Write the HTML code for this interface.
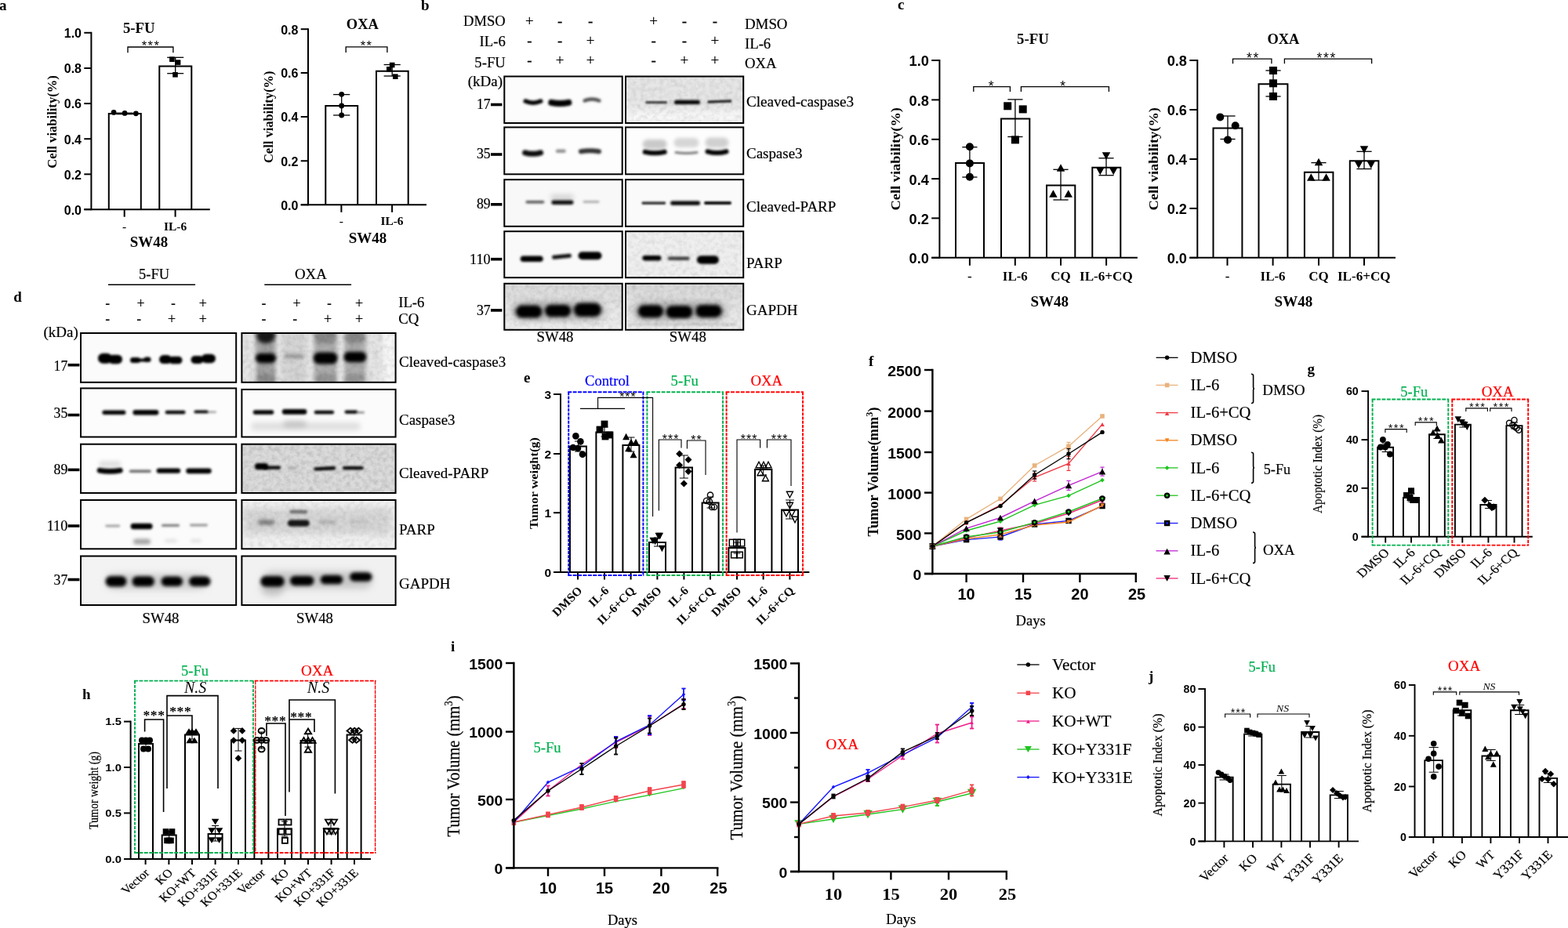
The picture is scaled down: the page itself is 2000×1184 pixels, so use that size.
<!DOCTYPE html>
<html lang="en"><head><meta charset="utf-8"><title>Figure</title>
<style>
html,body{margin:0;padding:0;background:#fff}
body{width:2000px;height:1184px;overflow:hidden}
svg{display:block}
text{white-space:pre;stroke-width:.2px;stroke-linejoin:round}
.s{font-family:'Liberation Serif',serif}
.a{font-family:'Liberation Sans',sans-serif}
.b{font-weight:bold}
.i{font-style:italic}
</style></head><body>
<svg width="2000" height="1184" viewBox="0 0 2000 1184">
<defs>
<filter id="f1" filterUnits="userSpaceOnUse" x="643.3" y="97.5" width="150.4" height="59.5"><feGaussianBlur stdDeviation="1.6"/></filter>
<filter id="f2" filterUnits="userSpaceOnUse" x="643.3" y="97.5" width="150.4" height="59.5"><feGaussianBlur stdDeviation="1.5"/></filter>
<filter id="f3" filterUnits="userSpaceOnUse" x="643.3" y="162.4" width="150.4" height="59.9"><feGaussianBlur stdDeviation="1.8"/></filter>
<filter id="f4" filterUnits="userSpaceOnUse" x="643.3" y="162.4" width="150.4" height="59.9"><feGaussianBlur stdDeviation="1.6"/></filter>
<filter id="f5" filterUnits="userSpaceOnUse" x="643.3" y="162.4" width="150.4" height="59.9"><feGaussianBlur stdDeviation="1.5"/></filter>
<filter id="f6" filterUnits="userSpaceOnUse" x="643.3" y="229.2" width="150.4" height="59.6"><feGaussianBlur stdDeviation="3"/></filter>
<filter id="f7" filterUnits="userSpaceOnUse" x="643.3" y="229.2" width="150.4" height="59.6"><feGaussianBlur stdDeviation="1.6"/></filter>
<filter id="f8" filterUnits="userSpaceOnUse" x="643.3" y="229.2" width="150.4" height="59.6"><feGaussianBlur stdDeviation="1.5"/></filter>
<filter id="f9" filterUnits="userSpaceOnUse" x="643.3" y="295.2" width="150.4" height="59"><feGaussianBlur stdDeviation="1.6"/></filter>
<filter id="f10" filterUnits="userSpaceOnUse" x="643.3" y="295.2" width="150.4" height="59"><feGaussianBlur stdDeviation="1.5"/></filter>
<filter id="nz" x="0" y="0" width="100%" height="100%"><feTurbulence type="fractalNoise" baseFrequency="0.17" numOctaves="3" seed="11" result="t"/><feColorMatrix in="t" type="matrix" values="0 0 0 0 0 0 0 0 0 0 0 0 0 0 0 0.9 0.9 0.9 0 -1.12"/></filter>
<linearGradient id="g1" x1="0" y1="0" x2="0" y2="1"><stop offset="0" stop-color="#dadada"/><stop offset="1" stop-color="#f0f0f0"/></linearGradient>
<filter id="f11" filterUnits="userSpaceOnUse" x="643.3" y="361.8" width="150.4" height="59"><feGaussianBlur stdDeviation="4.5"/></filter>
<filter id="f12" filterUnits="userSpaceOnUse" x="643.3" y="361.8" width="150.4" height="59"><feGaussianBlur stdDeviation="2"/></filter>
<filter id="f13" filterUnits="userSpaceOnUse" x="798" y="97.5" width="150.2" height="59.5"><feGaussianBlur stdDeviation="5"/></filter>
<filter id="f14" filterUnits="userSpaceOnUse" x="798" y="97.5" width="150.2" height="59.5"><feGaussianBlur stdDeviation="1.4"/></filter>
<filter id="f15" filterUnits="userSpaceOnUse" x="798" y="97.5" width="150.2" height="59.5"><feGaussianBlur stdDeviation="1.3"/></filter>
<filter id="f16" filterUnits="userSpaceOnUse" x="798" y="162.4" width="150.2" height="59.9"><feGaussianBlur stdDeviation="2.2"/></filter>
<filter id="f17" filterUnits="userSpaceOnUse" x="798" y="162.4" width="150.2" height="59.9"><feGaussianBlur stdDeviation="1.4"/></filter>
<filter id="f18" filterUnits="userSpaceOnUse" x="798" y="229.2" width="150.2" height="59.6"><feGaussianBlur stdDeviation="1.4"/></filter>
<filter id="f19" filterUnits="userSpaceOnUse" x="798" y="229.2" width="150.2" height="59.6"><feGaussianBlur stdDeviation="1.3"/></filter>
<filter id="f20" filterUnits="userSpaceOnUse" x="798" y="295.2" width="150.2" height="59"><feGaussianBlur stdDeviation="1.6"/></filter>
<filter id="f21" filterUnits="userSpaceOnUse" x="798" y="295.2" width="150.2" height="59"><feGaussianBlur stdDeviation="1.5"/></filter>
<linearGradient id="g2" x1="0" y1="0" x2="0" y2="1"><stop offset="0" stop-color="#d8d8d8"/><stop offset="1" stop-color="#eeeeee"/></linearGradient>
<filter id="f22" filterUnits="userSpaceOnUse" x="798" y="361.8" width="150.2" height="59"><feGaussianBlur stdDeviation="4.5"/></filter>
<filter id="f23" filterUnits="userSpaceOnUse" x="798" y="361.8" width="150.2" height="59"><feGaussianBlur stdDeviation="2"/></filter>
<filter id="f24" filterUnits="userSpaceOnUse" x="798" y="361.8" width="150.2" height="59"><feGaussianBlur stdDeviation="1.5"/></filter>
<filter id="f25" filterUnits="userSpaceOnUse" x="103" y="425" width="198.2" height="62.8"><feGaussianBlur stdDeviation="1.8"/></filter>
<filter id="f26" filterUnits="userSpaceOnUse" x="103" y="425" width="198.2" height="62.8"><feGaussianBlur stdDeviation="1.6"/></filter>
<filter id="f27" filterUnits="userSpaceOnUse" x="103" y="495.4" width="198.2" height="62.1"><feGaussianBlur stdDeviation="1.5"/></filter>
<filter id="f28" filterUnits="userSpaceOnUse" x="103" y="495.4" width="198.2" height="62.1"><feGaussianBlur stdDeviation="1.4"/></filter>
<filter id="f29" filterUnits="userSpaceOnUse" x="103" y="566.7" width="198.2" height="62.3"><feGaussianBlur stdDeviation="2.5"/></filter>
<filter id="f30" filterUnits="userSpaceOnUse" x="103" y="566.7" width="198.2" height="62.3"><feGaussianBlur stdDeviation="1.5"/></filter>
<filter id="f31" filterUnits="userSpaceOnUse" x="103" y="638" width="198.2" height="62.3"><feGaussianBlur stdDeviation="2.2"/></filter>
<filter id="f32" filterUnits="userSpaceOnUse" x="103" y="638" width="198.2" height="62.3"><feGaussianBlur stdDeviation="1.5"/></filter>
<filter id="f33" filterUnits="userSpaceOnUse" x="103" y="709.5" width="198.2" height="62.5"><feGaussianBlur stdDeviation="4"/></filter>
<filter id="f34" filterUnits="userSpaceOnUse" x="103" y="709.5" width="198.2" height="62.5"><feGaussianBlur stdDeviation="2"/></filter>
<filter id="f35" filterUnits="userSpaceOnUse" x="308.4" y="425" width="196.2" height="62.8"><feGaussianBlur stdDeviation="3"/></filter>
<filter id="f36" filterUnits="userSpaceOnUse" x="308.4" y="425" width="196.2" height="62.8"><feGaussianBlur stdDeviation="2.6"/></filter>
<filter id="f37" filterUnits="userSpaceOnUse" x="308.4" y="425" width="196.2" height="62.8"><feGaussianBlur stdDeviation="2.5"/></filter>
<filter id="f38" filterUnits="userSpaceOnUse" x="308.4" y="425" width="196.2" height="62.8"><feGaussianBlur stdDeviation="2.4"/></filter>
<filter id="f39" filterUnits="userSpaceOnUse" x="308.4" y="425" width="196.2" height="62.8"><feGaussianBlur stdDeviation="2.2"/></filter>
<filter id="f40" filterUnits="userSpaceOnUse" x="308.4" y="425" width="196.2" height="62.8"><feGaussianBlur stdDeviation="2"/></filter>
<filter id="f41" filterUnits="userSpaceOnUse" x="308.4" y="496.9" width="196.2" height="60.6"><feGaussianBlur stdDeviation="3"/></filter>
<filter id="f42" filterUnits="userSpaceOnUse" x="308.4" y="496.9" width="196.2" height="60.6"><feGaussianBlur stdDeviation="1.4"/></filter>
<filter id="f43" filterUnits="userSpaceOnUse" x="308.4" y="566.7" width="196.2" height="62.3"><feGaussianBlur stdDeviation="1.5"/></filter>
<filter id="f44" filterUnits="userSpaceOnUse" x="308.4" y="566.7" width="196.2" height="62.3"><feGaussianBlur stdDeviation="1.4"/></filter>
<filter id="f45" filterUnits="userSpaceOnUse" x="308.4" y="638" width="196.2" height="62.3"><feGaussianBlur stdDeviation="4"/></filter>
<filter id="f46" filterUnits="userSpaceOnUse" x="308.4" y="638" width="196.2" height="62.3"><feGaussianBlur stdDeviation="2"/></filter>
<filter id="f47" filterUnits="userSpaceOnUse" x="308.4" y="638" width="196.2" height="62.3"><feGaussianBlur stdDeviation="1.8"/></filter>
<filter id="f48" filterUnits="userSpaceOnUse" x="308.4" y="709.5" width="196.2" height="62.5"><feGaussianBlur stdDeviation="4.5"/></filter>
<filter id="f49" filterUnits="userSpaceOnUse" x="308.4" y="709.5" width="196.2" height="62.5"><feGaussianBlur stdDeviation="4"/></filter>
<filter id="f50" filterUnits="userSpaceOnUse" x="308.4" y="709.5" width="196.2" height="62.5"><feGaussianBlur stdDeviation="2"/></filter>
</defs>
<rect width="2000" height="1184" fill="#fff"/>
<text class="s b" font-size="19" x="-1" y="12.9">a</text>
<path d="M138.8 267.2V145H179.8V267.2" fill="#fff" stroke="#000" stroke-width="2"/>
<path d="M203.3 267.2V84.5H244.3V267.2" fill="#fff" stroke="#000" stroke-width="2"/>
<line x1="116.4" y1="40.8" x2="116.4" y2="268.2" stroke="#000" stroke-width="2"/>
<line x1="107.3" y1="267.2" x2="267.8" y2="267.2" stroke="#000" stroke-width="2"/>
<line x1="107.3" y1="41.8" x2="116.4" y2="41.8" stroke="#000" stroke-width="2"/>
<text class="a b" font-size="16" text-anchor="end" x="104" y="48.1">1.0</text>
<line x1="107.3" y1="87" x2="116.4" y2="87" stroke="#000" stroke-width="2"/>
<text class="a b" font-size="16" text-anchor="end" x="104" y="93.3">0.8</text>
<line x1="107.3" y1="132.1" x2="116.4" y2="132.1" stroke="#000" stroke-width="2"/>
<text class="a b" font-size="16" text-anchor="end" x="104" y="138.4">0.6</text>
<line x1="107.3" y1="177.2" x2="116.4" y2="177.2" stroke="#000" stroke-width="2"/>
<text class="a b" font-size="16" text-anchor="end" x="104" y="183.5">0.4</text>
<line x1="107.3" y1="222.3" x2="116.4" y2="222.3" stroke="#000" stroke-width="2"/>
<text class="a b" font-size="16" text-anchor="end" x="104" y="228.6">0.2</text>
<line x1="107.3" y1="267.2" x2="116.4" y2="267.2" stroke="#000" stroke-width="2"/>
<text class="a b" font-size="16" text-anchor="end" x="104" y="273.5">0.0</text>
<line x1="158.7" y1="267.2" x2="158.7" y2="276.7" stroke="#000" stroke-width="2"/>
<line x1="223.6" y1="267.2" x2="223.6" y2="276.7" stroke="#000" stroke-width="2"/>
<text class="s b" font-size="19" text-anchor="middle" textLength="40.7" lengthAdjust="spacingAndGlyphs" x="177.3" y="41.8">5-FU</text>
<text class="s b" font-size="16" text-anchor="middle" textLength="118.5" lengthAdjust="spacingAndGlyphs" transform="translate(72.2,155.4) rotate(-90)">Cell viability(%)</text>
<line x1="159" y1="144.2" x2="159" y2="145.6" stroke="#000" stroke-width="1.3"/>
<line x1="148.5" y1="144.2" x2="169.5" y2="144.2" stroke="#000" stroke-width="1.3"/>
<line x1="148.5" y1="145.6" x2="169.5" y2="145.6" stroke="#000" stroke-width="1.3"/>
<circle cx="145.1" cy="143.4" r="3.4" fill="#000"/>
<circle cx="159.1" cy="144.4" r="3.4" fill="#000"/>
<circle cx="173.4" cy="144.8" r="3.4" fill="#000"/>
<line x1="223.7" y1="73.3" x2="223.7" y2="93.7" stroke="#000" stroke-width="1.3"/>
<line x1="213.2" y1="73.3" x2="234.2" y2="73.3" stroke="#000" stroke-width="1.3"/>
<line x1="213.2" y1="93.7" x2="234.2" y2="93.7" stroke="#000" stroke-width="1.3"/>
<rect x="216.1" y="72.4" width="6.6" height="6.6" fill="#000"/>
<rect x="223.8" y="76.3" width="6.6" height="6.6" fill="#000"/>
<rect x="220.2" y="92" width="6.6" height="6.6" fill="#000"/>
<path d="M163 67.3V60H220.9V67.3" fill="none" stroke="#000" stroke-width="1.35"/>
<text class="a" font-size="16.5" text-anchor="middle" letter-spacing="1.4" x="192.5" y="63.71">***</text>
<text class="s b" font-size="15.5" text-anchor="middle" x="158.7" y="293.6">-</text>
<text class="s b" font-size="15.5" text-anchor="middle" textLength="29.2" lengthAdjust="spacingAndGlyphs" x="223.6" y="293.6">IL-6</text>
<text class="s b" font-size="19" text-anchor="middle" textLength="48.3" lengthAdjust="spacingAndGlyphs" x="190" y="314.9">SW48</text>
<path d="M415.3 261.3V134.9H456.2V261.3" fill="#fff" stroke="#000" stroke-width="2"/>
<path d="M480 261.3V90.7H520.7V261.3" fill="#fff" stroke="#000" stroke-width="2"/>
<line x1="393" y1="36.2" x2="393" y2="262.3" stroke="#000" stroke-width="2"/>
<line x1="383.7" y1="261.3" x2="544" y2="261.3" stroke="#000" stroke-width="2"/>
<line x1="383.7" y1="37.2" x2="393" y2="37.2" stroke="#000" stroke-width="2"/>
<text class="a b" font-size="16" text-anchor="end" x="380.4" y="43.5">0.8</text>
<line x1="383.7" y1="93" x2="393" y2="93" stroke="#000" stroke-width="2"/>
<text class="a b" font-size="16" text-anchor="end" x="380.4" y="99.3">0.6</text>
<line x1="383.7" y1="149" x2="393" y2="149" stroke="#000" stroke-width="2"/>
<text class="a b" font-size="16" text-anchor="end" x="380.4" y="155.3">0.4</text>
<line x1="383.7" y1="205.3" x2="393" y2="205.3" stroke="#000" stroke-width="2"/>
<text class="a b" font-size="16" text-anchor="end" x="380.4" y="211.6">0.2</text>
<line x1="383.7" y1="261.3" x2="393" y2="261.3" stroke="#000" stroke-width="2"/>
<text class="a b" font-size="16" text-anchor="end" x="380.4" y="267.6">0.0</text>
<line x1="435.4" y1="261.3" x2="435.4" y2="270.8" stroke="#000" stroke-width="2"/>
<line x1="500.1" y1="261.3" x2="500.1" y2="270.8" stroke="#000" stroke-width="2"/>
<text class="s b" font-size="19" text-anchor="middle" textLength="41.1" lengthAdjust="spacingAndGlyphs" x="462.4" y="36.7">OXA</text>
<text class="s b" font-size="16" text-anchor="middle" textLength="117.5" lengthAdjust="spacingAndGlyphs" transform="translate(348.4,149.3) rotate(-90)">Cell viability(%)</text>
<line x1="435.7" y1="120.6" x2="435.7" y2="147" stroke="#000" stroke-width="1.3"/>
<line x1="425.1" y1="120.6" x2="446.3" y2="120.6" stroke="#000" stroke-width="1.3"/>
<line x1="425.1" y1="147" x2="446.3" y2="147" stroke="#000" stroke-width="1.3"/>
<circle cx="435.7" cy="120.3" r="3.4" fill="#000"/>
<circle cx="435.7" cy="135" r="3.4" fill="#000"/>
<circle cx="435.7" cy="147" r="3.4" fill="#000"/>
<line x1="500.2" y1="82.5" x2="500.2" y2="97" stroke="#000" stroke-width="1.3"/>
<line x1="489.6" y1="82.5" x2="510.8" y2="82.5" stroke="#000" stroke-width="1.3"/>
<line x1="489.6" y1="97" x2="510.8" y2="97" stroke="#000" stroke-width="1.3"/>
<rect x="496.9" y="79.7" width="6.6" height="6.6" fill="#000"/>
<rect x="493" y="85" width="6.6" height="6.6" fill="#000"/>
<rect x="501" y="94.4" width="6.6" height="6.6" fill="#000"/>
<path d="M441.2 67V59.9H493.9V67" fill="none" stroke="#000" stroke-width="1.35"/>
<text class="a" font-size="16.5" text-anchor="middle" letter-spacing="1.4" x="467.6" y="63.61">**</text>
<text class="s b" font-size="15.5" text-anchor="middle" x="435.4" y="287.3">-</text>
<text class="s b" font-size="15.5" text-anchor="middle" textLength="29.2" lengthAdjust="spacingAndGlyphs" x="500" y="287.3">IL-6</text>
<text class="s b" font-size="19" text-anchor="middle" textLength="48.5" lengthAdjust="spacingAndGlyphs" x="469" y="309.7">SW48</text>
<text class="s b" font-size="19" x="1145.1" y="12.3">c</text>
<path d="M1219 328.8V207.9H1255V328.8" fill="#fff" stroke="#000" stroke-width="2"/>
<path d="M1277 328.8V151.5H1313.3V328.8" fill="#fff" stroke="#000" stroke-width="2"/>
<path d="M1335 328.8V236.6H1371.3V328.8" fill="#fff" stroke="#000" stroke-width="2"/>
<path d="M1393.3 328.8V213.7H1429.3V328.8" fill="#fff" stroke="#000" stroke-width="2"/>
<line x1="1198.4" y1="76" x2="1198.4" y2="329.8" stroke="#000" stroke-width="2"/>
<line x1="1188.2" y1="328.8" x2="1450.9" y2="328.8" stroke="#000" stroke-width="2"/>
<line x1="1188.2" y1="77" x2="1198.4" y2="77" stroke="#000" stroke-width="2"/>
<text class="a b" font-size="18.2" text-anchor="end" x="1184.9" y="84.4">1.0</text>
<line x1="1188.2" y1="127.4" x2="1198.4" y2="127.4" stroke="#000" stroke-width="2"/>
<text class="a b" font-size="18.2" text-anchor="end" x="1184.9" y="134.8">0.8</text>
<line x1="1188.2" y1="177.8" x2="1198.4" y2="177.8" stroke="#000" stroke-width="2"/>
<text class="a b" font-size="18.2" text-anchor="end" x="1184.9" y="185.2">0.6</text>
<line x1="1188.2" y1="228.1" x2="1198.4" y2="228.1" stroke="#000" stroke-width="2"/>
<text class="a b" font-size="18.2" text-anchor="end" x="1184.9" y="235.5">0.4</text>
<line x1="1188.2" y1="278.4" x2="1198.4" y2="278.4" stroke="#000" stroke-width="2"/>
<text class="a b" font-size="18.2" text-anchor="end" x="1184.9" y="285.8">0.2</text>
<line x1="1188.2" y1="328.8" x2="1198.4" y2="328.8" stroke="#000" stroke-width="2"/>
<text class="a b" font-size="18.2" text-anchor="end" x="1184.9" y="336.2">0.0</text>
<line x1="1236.9" y1="328.8" x2="1236.9" y2="338.8" stroke="#000" stroke-width="2"/>
<line x1="1294.8" y1="328.8" x2="1294.8" y2="338.8" stroke="#000" stroke-width="2"/>
<line x1="1353" y1="328.8" x2="1353" y2="338.8" stroke="#000" stroke-width="2"/>
<line x1="1411.1" y1="328.8" x2="1411.1" y2="338.8" stroke="#000" stroke-width="2"/>
<text class="s b" font-size="19" text-anchor="middle" textLength="40.8" lengthAdjust="spacingAndGlyphs" x="1317.5" y="55.9">5-FU</text>
<text class="s b" font-size="17.5" text-anchor="middle" textLength="131.5" lengthAdjust="spacingAndGlyphs" transform="translate(1147.8,202.8) rotate(-90)">Cell viability(%)</text>
<line x1="1236.9" y1="187.7" x2="1236.9" y2="226" stroke="#000" stroke-width="1.3"/>
<line x1="1227.3" y1="187.7" x2="1246.5" y2="187.7" stroke="#000" stroke-width="1.3"/>
<line x1="1227.3" y1="226" x2="1246.5" y2="226" stroke="#000" stroke-width="1.3"/>
<circle cx="1236.9" cy="187.2" r="5" fill="#000"/>
<circle cx="1236.9" cy="208.4" r="5" fill="#000"/>
<circle cx="1236.9" cy="225.7" r="5" fill="#000"/>
<line x1="1294.9" y1="126.9" x2="1294.9" y2="174.5" stroke="#000" stroke-width="1.3"/>
<line x1="1285.3" y1="126.9" x2="1304.5" y2="126.9" stroke="#000" stroke-width="1.3"/>
<line x1="1285.3" y1="174.5" x2="1304.5" y2="174.5" stroke="#000" stroke-width="1.3"/>
<rect x="1280.2" y="130.3" width="10" height="10" fill="#000"/>
<rect x="1299.7" y="134.4" width="10" height="10" fill="#000"/>
<rect x="1289.9" y="173.4" width="10" height="10" fill="#000"/>
<line x1="1353" y1="216.3" x2="1353" y2="255" stroke="#000" stroke-width="1.3"/>
<line x1="1343.4" y1="216.3" x2="1362.6" y2="216.3" stroke="#000" stroke-width="1.3"/>
<line x1="1343.4" y1="255" x2="1362.6" y2="255" stroke="#000" stroke-width="1.3"/>
<polygon points="1353,209.15 1358.25,218.65 1347.75,218.65" fill="#000"/>
<polygon points="1343.4,242.35 1348.65,251.85 1338.15,251.85" fill="#000"/>
<polygon points="1362.7,242.35 1367.95,251.85 1357.45,251.85" fill="#000"/>
<line x1="1411" y1="201.8" x2="1411" y2="223.7" stroke="#000" stroke-width="1.3"/>
<line x1="1401.4" y1="201.8" x2="1420.6" y2="201.8" stroke="#000" stroke-width="1.3"/>
<line x1="1401.4" y1="223.7" x2="1420.6" y2="223.7" stroke="#000" stroke-width="1.3"/>
<polygon points="1411,203.65 1416.25,194.15 1405.75,194.15" fill="#000"/>
<polygon points="1403.3,223.35 1408.55,213.85 1398.05,213.85" fill="#000"/>
<polygon points="1420.2,223.35 1425.45,213.85 1414.95,213.85" fill="#000"/>
<path d="M1241.8 116.9V110.7H1288.4V116.9" fill="none" stroke="#000" stroke-width="1.3"/>
<text class="a" font-size="17.5" text-anchor="middle" letter-spacing="1.7" x="1264.95" y="116.45">*</text>
<path d="M1302.4 116.9V110.7H1414.4V116.9" fill="none" stroke="#000" stroke-width="1.3"/>
<text class="a" font-size="17.5" text-anchor="middle" letter-spacing="1.7" x="1356.55" y="116.45">*</text>
<text class="s b" font-size="17" text-anchor="middle" x="1236.9" y="357.8">-</text>
<text class="s b" font-size="17" text-anchor="middle" textLength="32" lengthAdjust="spacingAndGlyphs" x="1294.8" y="357.8">IL-6</text>
<text class="s b" font-size="17" text-anchor="middle" textLength="25.5" lengthAdjust="spacingAndGlyphs" x="1353" y="357.8">CQ</text>
<text class="s b" font-size="17" text-anchor="middle" textLength="67.7" lengthAdjust="spacingAndGlyphs" x="1410.9" y="357.8">IL-6+CQ</text>
<text class="s b" font-size="19" text-anchor="middle" textLength="48.6" lengthAdjust="spacingAndGlyphs" x="1338.7" y="390.7">SW48</text>
<path d="M1547.5 328.8V163.4H1584.4V328.8" fill="#fff" stroke="#000" stroke-width="2"/>
<path d="M1605.5 328.8V107.2H1642.4V328.8" fill="#fff" stroke="#000" stroke-width="2"/>
<path d="M1663.9 328.8V219.7H1700.4V328.8" fill="#fff" stroke="#000" stroke-width="2"/>
<path d="M1721.8 328.8V205.3H1758.4V328.8" fill="#fff" stroke="#000" stroke-width="2"/>
<line x1="1527.3" y1="76" x2="1527.3" y2="329.8" stroke="#000" stroke-width="2"/>
<line x1="1517.3" y1="328.8" x2="1780" y2="328.8" stroke="#000" stroke-width="2"/>
<line x1="1517.3" y1="77" x2="1527.3" y2="77" stroke="#000" stroke-width="2"/>
<text class="a b" font-size="18.2" text-anchor="end" x="1514" y="84.4">0.8</text>
<line x1="1517.3" y1="140" x2="1527.3" y2="140" stroke="#000" stroke-width="2"/>
<text class="a b" font-size="18.2" text-anchor="end" x="1514" y="147.4">0.6</text>
<line x1="1517.3" y1="203" x2="1527.3" y2="203" stroke="#000" stroke-width="2"/>
<text class="a b" font-size="18.2" text-anchor="end" x="1514" y="210.4">0.4</text>
<line x1="1517.3" y1="265.9" x2="1527.3" y2="265.9" stroke="#000" stroke-width="2"/>
<text class="a b" font-size="18.2" text-anchor="end" x="1514" y="273.3">0.2</text>
<line x1="1517.3" y1="328.8" x2="1527.3" y2="328.8" stroke="#000" stroke-width="2"/>
<text class="a b" font-size="18.2" text-anchor="end" x="1514" y="336.2">0.0</text>
<line x1="1565.5" y1="328.8" x2="1565.5" y2="338.8" stroke="#000" stroke-width="2"/>
<line x1="1623.6" y1="328.8" x2="1623.6" y2="338.8" stroke="#000" stroke-width="2"/>
<line x1="1682" y1="328.8" x2="1682" y2="338.8" stroke="#000" stroke-width="2"/>
<line x1="1740" y1="328.8" x2="1740" y2="338.8" stroke="#000" stroke-width="2"/>
<text class="s b" font-size="19" text-anchor="middle" textLength="41" lengthAdjust="spacingAndGlyphs" x="1636.9" y="55.9">OXA</text>
<text class="s b" font-size="17.5" text-anchor="middle" textLength="131.5" lengthAdjust="spacingAndGlyphs" transform="translate(1477.2,202.8) rotate(-90)">Cell viability(%)</text>
<line x1="1566" y1="148" x2="1566" y2="177.5" stroke="#000" stroke-width="1.3"/>
<line x1="1556.4" y1="148" x2="1575.6" y2="148" stroke="#000" stroke-width="1.3"/>
<line x1="1556.4" y1="177.5" x2="1575.6" y2="177.5" stroke="#000" stroke-width="1.3"/>
<circle cx="1556.3" cy="149.4" r="5" fill="#000"/>
<circle cx="1575.7" cy="160.3" r="5" fill="#000"/>
<circle cx="1566" cy="178.4" r="5" fill="#000"/>
<line x1="1624" y1="90" x2="1624" y2="123" stroke="#000" stroke-width="1.3"/>
<line x1="1614.4" y1="90" x2="1633.6" y2="90" stroke="#000" stroke-width="1.3"/>
<line x1="1614.4" y1="123" x2="1633.6" y2="123" stroke="#000" stroke-width="1.3"/>
<rect x="1619" y="85" width="10" height="10" fill="#000"/>
<rect x="1619" y="101.3" width="10" height="10" fill="#000"/>
<rect x="1619" y="118" width="10" height="10" fill="#000"/>
<line x1="1682" y1="207.6" x2="1682" y2="229.9" stroke="#000" stroke-width="1.3"/>
<line x1="1672.4" y1="207.6" x2="1691.6" y2="207.6" stroke="#000" stroke-width="1.3"/>
<line x1="1672.4" y1="229.9" x2="1691.6" y2="229.9" stroke="#000" stroke-width="1.3"/>
<polygon points="1682,201.65 1687.25,211.15 1676.75,211.15" fill="#000"/>
<polygon points="1672.3,221.25 1677.55,230.75 1667.05,230.75" fill="#000"/>
<polygon points="1691.6,221.25 1696.85,230.75 1686.35,230.75" fill="#000"/>
<line x1="1740" y1="193.3" x2="1740" y2="215.5" stroke="#000" stroke-width="1.3"/>
<line x1="1730.4" y1="193.3" x2="1749.6" y2="193.3" stroke="#000" stroke-width="1.3"/>
<line x1="1730.4" y1="215.5" x2="1749.6" y2="215.5" stroke="#000" stroke-width="1.3"/>
<polygon points="1740,195.65 1745.25,186.15 1734.75,186.15" fill="#000"/>
<polygon points="1733,214.95 1738.25,205.45 1727.75,205.45" fill="#000"/>
<polygon points="1748.8,214.95 1754.05,205.45 1743.55,205.45" fill="#000"/>
<path d="M1572.5 81.2V75.2H1621.9V81.2" fill="none" stroke="#000" stroke-width="1.3"/>
<text class="a" font-size="17.5" text-anchor="middle" letter-spacing="1.7" x="1598.45" y="79.95">**</text>
<path d="M1638.4 81.2V75.2H1749.6V81.2" fill="none" stroke="#000" stroke-width="1.3"/>
<text class="a" font-size="17.5" text-anchor="middle" letter-spacing="1.7" x="1692.15" y="79.95">***</text>
<text class="s b" font-size="17" text-anchor="middle" x="1565.5" y="357.8">-</text>
<text class="s b" font-size="17" text-anchor="middle" textLength="32" lengthAdjust="spacingAndGlyphs" x="1623.6" y="357.8">IL-6</text>
<text class="s b" font-size="17" text-anchor="middle" textLength="25.5" lengthAdjust="spacingAndGlyphs" x="1682" y="357.8">CQ</text>
<text class="s b" font-size="17" text-anchor="middle" textLength="67.7" lengthAdjust="spacingAndGlyphs" x="1739.8" y="357.8">IL-6+CQ</text>
<text class="s b" font-size="19" text-anchor="middle" textLength="48.6" lengthAdjust="spacingAndGlyphs" x="1649.9" y="390.7">SW48</text>
<text class="s b" font-size="19" x="537" y="12.6">b</text>
<text class="s" font-size="18.7" text-anchor="end" stroke="#000" textLength="53.7" lengthAdjust="spacingAndGlyphs" x="644.8" y="33.4">DMSO</text>
<text class="s" font-size="18.7" text-anchor="end" stroke="#000" x="644.8" y="58.9">IL-6</text>
<text class="s" font-size="18.7" text-anchor="end" stroke="#000" x="644.8" y="85.5">5-FU</text>
<text class="s" font-size="18.7" stroke="#000" textLength="54.5" lengthAdjust="spacingAndGlyphs" x="950" y="36.7">DMSO</text>
<text class="s" font-size="18.7" stroke="#000" x="950" y="61.7">IL-6</text>
<text class="s" font-size="18.7" stroke="#000" x="950" y="87">OXA</text>
<text class="s" font-size="19" text-anchor="middle" stroke="#000" x="675.3" y="33.4">+</text>
<text class="s" font-size="19" text-anchor="middle" stroke="#000" x="714.2" y="33.4">-</text>
<text class="s" font-size="19" text-anchor="middle" stroke="#000" x="753.2" y="33.4">-</text>
<text class="s" font-size="19" text-anchor="middle" stroke="#000" x="675.3" y="57.6">-</text>
<text class="s" font-size="19" text-anchor="middle" stroke="#000" x="714.2" y="57.6">-</text>
<text class="s" font-size="19" text-anchor="middle" stroke="#000" x="753.2" y="57.6">+</text>
<text class="s" font-size="19" text-anchor="middle" stroke="#000" x="675.3" y="82.6">-</text>
<text class="s" font-size="19" text-anchor="middle" stroke="#000" x="714.2" y="82.6">+</text>
<text class="s" font-size="19" text-anchor="middle" stroke="#000" x="753.2" y="82.6">+</text>
<text class="s" font-size="19" text-anchor="middle" stroke="#000" x="833.7" y="33.4">+</text>
<text class="s" font-size="19" text-anchor="middle" stroke="#000" x="872.9" y="33.4">-</text>
<text class="s" font-size="19" text-anchor="middle" stroke="#000" x="911.9" y="33.4">-</text>
<text class="s" font-size="19" text-anchor="middle" stroke="#000" x="833.7" y="57.6">-</text>
<text class="s" font-size="19" text-anchor="middle" stroke="#000" x="872.9" y="57.6">-</text>
<text class="s" font-size="19" text-anchor="middle" stroke="#000" x="911.9" y="57.6">+</text>
<text class="s" font-size="19" text-anchor="middle" stroke="#000" x="833.7" y="82.6">-</text>
<text class="s" font-size="19" text-anchor="middle" stroke="#000" x="872.9" y="82.6">+</text>
<text class="s" font-size="19" text-anchor="middle" stroke="#000" x="911.9" y="82.6">+</text>
<text class="s" font-size="18.7" stroke="#000" textLength="44.3" lengthAdjust="spacingAndGlyphs" x="596.7" y="110">(kDa)</text>
<rect x="626" y="131.7" width="14.4" height="3.6" fill="#000"/>
<text class="s" font-size="18.7" text-anchor="end" stroke="#000" textLength="17.76" lengthAdjust="spacingAndGlyphs" x="625.7" y="139.2">17</text>
<rect x="626" y="195.2" width="14.4" height="3.6" fill="#000"/>
<text class="s" font-size="18.7" text-anchor="end" stroke="#000" textLength="17.76" lengthAdjust="spacingAndGlyphs" x="625.7" y="201.6">35</text>
<rect x="626" y="259" width="14.4" height="3.6" fill="#000"/>
<text class="s" font-size="18.7" text-anchor="end" stroke="#000" textLength="17.76" lengthAdjust="spacingAndGlyphs" x="625.7" y="266.4">89</text>
<rect x="626" y="328.9" width="14.4" height="3.6" fill="#000"/>
<text class="s" font-size="18.7" text-anchor="end" stroke="#000" textLength="26.65" lengthAdjust="spacingAndGlyphs" x="625.7" y="337">110</text>
<rect x="626" y="394.1" width="14.4" height="3.6" fill="#000"/>
<text class="s" font-size="18.7" text-anchor="end" stroke="#000" textLength="17.76" lengthAdjust="spacingAndGlyphs" x="625.7" y="402.2">37</text>
<rect x="643.3" y="97.5" width="150.4" height="59.5" fill="#fcfcfc"/>
<g filter="url(#f1)">
<path d="M703.3 130.9Q714.3 133.3 725.3 130.9" fill="none" stroke="#000" stroke-width="8" stroke-linecap="round"/>
<path d="M745.75 128.4Q755 124.8 764.25 128.4" fill="none" stroke="#333" stroke-width="4.5" stroke-linecap="round" opacity="0.85"/>
</g>
<g filter="url(#f2)">
<path d="M670.25 129.1Q680 133.5 689.75 129.1" fill="none" stroke="#000" stroke-width="5.5" stroke-linecap="round"/>
</g>
<rect x="643.3" y="97.5" width="150.4" height="59.5" fill="none" stroke="#000" stroke-width="2"/>
<rect x="643.3" y="162.4" width="150.4" height="59.9" fill="#fdfdfd"/>
<g filter="url(#f3)">
<rect x="708.8" y="190.55" width="13" height="4.5" rx="2.25" ry="2.25" fill="#777" opacity="0.8"/>
</g>
<g filter="url(#f4)">
<path d="M741 193.3Q752.5 191.3 764 193.3" fill="none" stroke="#333" stroke-width="6" stroke-linecap="round"/>
</g>
<g filter="url(#f5)">
<path d="M669.6 194.85Q679.6 197.85 689.6 194.85" fill="none" stroke="#111" stroke-width="7" stroke-linecap="round"/>
</g>
<rect x="643.3" y="162.4" width="150.4" height="59.9" fill="none" stroke="#000" stroke-width="2"/>
<rect x="643.3" y="229.2" width="150.4" height="59.6" fill="#f8f8f8"/>
<g filter="url(#f6)">
<rect x="702" y="248" width="30" height="8" rx="4" ry="4" fill="#aaa" opacity="0.45"/>
</g>
<g filter="url(#f7)">
<rect x="743.5" y="256" width="21" height="3" rx="1.5" ry="1.5" fill="#999" opacity="0.8"/>
</g>
<g filter="url(#f8)">
<rect x="670.4" y="255.9" width="24" height="3.6" rx="1.8" ry="1.8" fill="#444" opacity="0.9"/>
<rect x="703.4" y="255.5" width="28" height="5.4" rx="2.7" ry="2.7" fill="#111"/>
</g>
<rect x="643.3" y="229.2" width="150.4" height="59.6" fill="none" stroke="#000" stroke-width="2"/>
<rect x="643.3" y="295.2" width="150.4" height="59" fill="#f9f9f9"/>
<g filter="url(#f9)">
<rect x="737.5" y="321.2" width="30" height="10" rx="5" ry="5" fill="#000"/>
</g>
<g filter="url(#f10)">
<rect x="663.7" y="326.5" width="29" height="7.6" rx="3.8" ry="3.8" fill="#000"/>
<rect x="704" y="324.7" width="25" height="5" rx="2.5" ry="2.5" fill="#111" transform="rotate(-6 716.5 327.2)"/>
</g>
<rect x="643.3" y="295.2" width="150.4" height="59" fill="none" stroke="#000" stroke-width="2"/>
<rect x="643.3" y="361.8" width="150.4" height="59" fill="url(#g1)"/>
<g filter="url(#f11)">
<rect x="653" y="385" width="118" height="24" rx="12" ry="12" fill="#777" opacity="0.5"/>
</g>
<g filter="url(#f12)">
<rect x="657.95" y="389.6" width="33.5" height="16" rx="8" ry="8" fill="#000"/>
<rect x="694.85" y="388.85" width="33.5" height="15.5" rx="7.75" ry="7.75" fill="#000"/>
<rect x="731.9" y="386.45" width="35" height="17.5" rx="8.75" ry="8.75" fill="#000"/>
</g>
<rect x="643.3" y="361.8" width="150.4" height="59" filter="url(#nz)" opacity="0.11"/>
<rect x="643.3" y="361.8" width="150.4" height="59" fill="none" stroke="#000" stroke-width="2"/>
<rect x="798" y="97.5" width="150.2" height="59.5" fill="#e6e6e6"/>
<g filter="url(#f13)">
<rect x="793" y="141" width="160" height="18" rx="9" ry="9" fill="#fff" opacity="0.7"/>
</g>
<g filter="url(#f14)">
<rect x="859.9" y="127.7" width="33" height="5.4" rx="2.7" ry="2.7" fill="#000"/>
</g>
<g filter="url(#f15)">
<rect x="823.2" y="129.1" width="28" height="3.2" rx="1.6" ry="1.6" fill="#333" opacity="0.9"/>
<rect x="902.3" y="127.8" width="31" height="3.4" rx="1.7" ry="1.7" fill="#222" opacity="0.95" transform="rotate(-2 917.8 129.5)"/>
</g>
<rect x="798" y="97.5" width="150.2" height="59.5" filter="url(#nz)" opacity="0.1"/>
<rect x="798" y="97.5" width="150.2" height="59.5" fill="none" stroke="#000" stroke-width="2"/>
<rect x="798" y="162.4" width="150.2" height="59.9" fill="#fdfdfd"/>
<g filter="url(#f16)">
<rect x="819.7" y="178" width="31" height="12" rx="6" ry="6" fill="#bbb" opacity="0.8"/>
<rect x="859.5" y="176" width="32" height="12" rx="6" ry="6" fill="#ccc" opacity="0.8"/>
<rect x="899.5" y="175.5" width="30" height="13" rx="6.5" ry="6.5" fill="#c4c4c4" opacity="0.8"/>
</g>
<g filter="url(#f17)">
<path d="M822.7 193.85Q835.2 196.85 847.7 193.85" fill="none" stroke="#000" stroke-width="6" stroke-linecap="round"/>
<path d="M862.1 194.5Q875.5 196.5 888.9 194.5" fill="none" stroke="#666" stroke-width="3.2" stroke-linecap="round" opacity="0.9"/>
<path d="M902.5 193.3Q914.5 196.9 926.5 193.3" fill="none" stroke="#000" stroke-width="6" stroke-linecap="round"/>
</g>
<rect x="798" y="162.4" width="150.2" height="59.9" fill="none" stroke="#000" stroke-width="2"/>
<rect x="798" y="229.2" width="150.2" height="59.6" fill="#fafafa"/>
<g filter="url(#f18)">
<rect x="855.1" y="256.5" width="38" height="5.2" rx="2.6" ry="2.6" fill="#000"/>
</g>
<g filter="url(#f19)">
<rect x="818.3" y="257.3" width="31" height="3.6" rx="1.8" ry="1.8" fill="#333" opacity="0.95"/>
<rect x="898" y="257.1" width="35" height="4" rx="2" ry="2" fill="#111"/>
</g>
<rect x="798" y="229.2" width="150.2" height="59.6" fill="none" stroke="#000" stroke-width="2"/>
<rect x="798" y="295.2" width="150.2" height="59" fill="#efefef"/>
<g filter="url(#f20)">
<rect x="888.9" y="326.15" width="28" height="10.5" rx="5.25" ry="5.25" fill="#000"/>
</g>
<g filter="url(#f21)">
<rect x="819.4" y="326.1" width="24" height="6.4" rx="3.2" ry="3.2" fill="#000"/>
<rect x="851.7" y="327.4" width="28" height="4.6" rx="2.3" ry="2.3" fill="#333" opacity="0.95"/>
</g>
<rect x="798" y="295.2" width="150.2" height="59" filter="url(#nz)" opacity="0.09"/>
<rect x="798" y="295.2" width="150.2" height="59" fill="none" stroke="#000" stroke-width="2"/>
<rect x="798" y="361.8" width="150.2" height="59" fill="url(#g2)"/>
<g filter="url(#f22)">
<rect x="808" y="385" width="118" height="24" rx="12" ry="12" fill="#777" opacity="0.5"/>
</g>
<g filter="url(#f23)">
<rect x="813.75" y="389.2" width="32.5" height="16" rx="8" ry="8" fill="#000"/>
<rect x="849.4" y="390" width="34" height="16" rx="8" ry="8" fill="#000"/>
<rect x="887.15" y="388.9" width="33.5" height="16" rx="8" ry="8" fill="#000"/>
</g>
<g filter="url(#f24)">
<rect x="800" y="413" width="140" height="2" rx="1" ry="1" fill="#999" opacity="0.5"/>
</g>
<rect x="798" y="361.8" width="150.2" height="59" filter="url(#nz)" opacity="0.11"/>
<rect x="798" y="361.8" width="150.2" height="59" fill="none" stroke="#000" stroke-width="2"/>
<text class="s" font-size="19" stroke="#000" textLength="137" lengthAdjust="spacingAndGlyphs" x="952" y="136.3">Cleaved-caspase3</text>
<text class="s" font-size="19" stroke="#000" textLength="71.5" lengthAdjust="spacingAndGlyphs" x="952" y="201.6">Caspase3</text>
<text class="s" font-size="19" stroke="#000" x="952" y="270.3">Cleaved-PARP</text>
<text class="s" font-size="19" stroke="#000" x="952" y="341.6">PARP</text>
<text class="s" font-size="19" stroke="#000" x="952" y="402.2">GAPDH</text>
<text class="s" font-size="19" text-anchor="middle" stroke="#000" textLength="47" lengthAdjust="spacingAndGlyphs" x="708" y="435.9">SW48</text>
<text class="s" font-size="19" text-anchor="middle" stroke="#000" textLength="47" lengthAdjust="spacingAndGlyphs" x="877.3" y="435.9">SW48</text>
<text class="s b" font-size="19" x="17.3" y="385">d</text>
<text class="s" font-size="18.7" text-anchor="middle" stroke="#000" textLength="39" lengthAdjust="spacingAndGlyphs" x="196.5" y="356.3">5-FU</text>
<line x1="138" y1="363.2" x2="249.1" y2="363.2" stroke="#000" stroke-width="1.5"/>
<text class="s" font-size="18.7" text-anchor="middle" stroke="#000" textLength="41" lengthAdjust="spacingAndGlyphs" x="396.4" y="356.3">OXA</text>
<line x1="337.3" y1="363.2" x2="448.1" y2="363.2" stroke="#000" stroke-width="1.5"/>
<text class="s" font-size="18.7" stroke="#000" x="508.2" y="392.4">IL-6</text>
<text class="s" font-size="18.7" stroke="#000" x="508.2" y="412.6">CQ</text>
<text class="s b" font-size="18" text-anchor="middle" x="137.2" y="392.6">-</text>
<text class="s" font-size="18" text-anchor="middle" stroke="#000" x="179.7" y="392.6">+</text>
<text class="s b" font-size="18" text-anchor="middle" x="221" y="392.6">-</text>
<text class="s" font-size="18" text-anchor="middle" stroke="#000" x="258.8" y="392.6">+</text>
<text class="s b" font-size="18" text-anchor="middle" x="137.2" y="413.2">-</text>
<text class="s b" font-size="18" text-anchor="middle" x="177.2" y="413.2">-</text>
<text class="s" font-size="18" text-anchor="middle" stroke="#000" x="219.2" y="413.2">+</text>
<text class="s" font-size="18" text-anchor="middle" stroke="#000" x="258.8" y="413.2">+</text>
<text class="s b" font-size="18" text-anchor="middle" x="336.4" y="392.6">-</text>
<text class="s" font-size="18" text-anchor="middle" stroke="#000" x="378.7" y="392.6">+</text>
<text class="s b" font-size="18" text-anchor="middle" x="420" y="392.6">-</text>
<text class="s" font-size="18" text-anchor="middle" stroke="#000" x="458.2" y="392.6">+</text>
<text class="s b" font-size="18" text-anchor="middle" x="336.4" y="413.2">-</text>
<text class="s b" font-size="18" text-anchor="middle" x="376.2" y="413.2">-</text>
<text class="s" font-size="18" text-anchor="middle" stroke="#000" x="418.2" y="413.2">+</text>
<text class="s" font-size="18" text-anchor="middle" stroke="#000" x="458.2" y="413.2">+</text>
<text class="s" font-size="18.7" stroke="#000" textLength="44.2" lengthAdjust="spacingAndGlyphs" x="55.5" y="429.6">(kDa)</text>
<rect x="86.6" y="463.9" width="14.8" height="3.6" fill="#000"/>
<text class="s" font-size="18.7" text-anchor="end" stroke="#000" textLength="17.76" lengthAdjust="spacingAndGlyphs" x="86.3" y="472.7">17</text>
<rect x="86.6" y="527.7" width="14.8" height="3.6" fill="#000"/>
<text class="s" font-size="18.7" text-anchor="end" stroke="#000" textLength="17.76" lengthAdjust="spacingAndGlyphs" x="86.3" y="533.3">35</text>
<rect x="86.6" y="597.6" width="14.8" height="3.6" fill="#000"/>
<text class="s" font-size="18.7" text-anchor="end" stroke="#000" textLength="17.76" lengthAdjust="spacingAndGlyphs" x="86.3" y="605.4">89</text>
<rect x="86.6" y="669.2" width="14.8" height="3.6" fill="#000"/>
<text class="s" font-size="18.7" text-anchor="end" stroke="#000" textLength="26.65" lengthAdjust="spacingAndGlyphs" x="86.3" y="677.4">110</text>
<rect x="86.6" y="737.7" width="14.8" height="3.6" fill="#000"/>
<text class="s" font-size="18.7" text-anchor="end" stroke="#000" textLength="17.76" lengthAdjust="spacingAndGlyphs" x="86.3" y="745.6">37</text>
<rect x="103" y="425" width="198.2" height="62.8" fill="#fbfbfb"/>
<g filter="url(#f25)">
<rect x="125" y="450.7" width="18" height="13" rx="6.5" ry="6.5" fill="#000"/>
<rect x="138" y="452.65" width="18" height="11.5" rx="5.75" ry="5.75" fill="#000"/>
<rect x="203" y="453.1" width="16" height="11" rx="5.5" ry="5.5" fill="#000"/>
<rect x="215.5" y="454.85" width="17" height="9.5" rx="4.75" ry="4.75" fill="#000"/>
<rect x="243.5" y="454" width="16" height="10" rx="5" ry="5" fill="#000"/>
<rect x="257" y="451.65" width="18" height="11.5" rx="5.75" ry="5.75" fill="#000"/>
</g>
<g filter="url(#f26)">
<rect x="166" y="456.1" width="13" height="7" rx="3.5" ry="3.5" fill="#000"/>
<rect x="170" y="457.4" width="20" height="4" rx="2" ry="2" fill="#000"/>
<rect x="183.5" y="455.6" width="9" height="6.4" rx="3.2" ry="3.2" fill="#000"/>
</g>
<rect x="103" y="425" width="198.2" height="62.8" fill="none" stroke="#000" stroke-width="2"/>
<rect x="103" y="495.4" width="198.2" height="62.1" fill="#fcfcfc"/>
<g filter="url(#f27)">
<rect x="264" y="524.55" width="12" height="2.5" rx="1.25" ry="1.25" fill="#777" opacity="0.7"/>
</g>
<g filter="url(#f28)">
<rect x="130.4" y="523.6" width="30" height="5.4" rx="2.7" ry="2.7" fill="#000"/>
<rect x="169.4" y="523.1" width="33" height="6.4" rx="3.2" ry="3.2" fill="#000"/>
<rect x="210.6" y="523.7" width="26" height="4.6" rx="2.3" ry="2.3" fill="#000"/>
<rect x="247.5" y="523.5" width="18" height="3.8" rx="1.9" ry="1.9" fill="#000"/>
</g>
<rect x="103" y="495.4" width="198.2" height="62.1" fill="none" stroke="#000" stroke-width="2"/>
<rect x="103" y="566.7" width="198.2" height="62.3" fill="#fdfdfd"/>
<g filter="url(#f29)">
<rect x="126.2" y="588" width="28" height="8" rx="4" ry="4" fill="#ccc" opacity="0.6"/>
</g>
<g filter="url(#f30)">
<path d="M127 600.2Q140.2 602.6 153.4 600.2" fill="none" stroke="#000" stroke-width="6.6" stroke-linecap="round"/>
<rect x="164.8" y="599.4" width="28" height="3.6" rx="1.8" ry="1.8" fill="#555" opacity="0.9"/>
<rect x="199.65" y="597.4" width="30.5" height="6.4" rx="3.2" ry="3.2" fill="#000"/>
<rect x="237.25" y="597.4" width="32.5" height="6.8" rx="3.4" ry="3.4" fill="#000"/>
</g>
<rect x="103" y="566.7" width="198.2" height="62.3" fill="none" stroke="#000" stroke-width="2"/>
<rect x="103" y="638" width="198.2" height="62.3" fill="#fbfbfb"/>
<g filter="url(#f31)">
<rect x="170" y="687.5" width="22" height="7" rx="3.5" ry="3.5" fill="#888" opacity="0.75"/>
<rect x="210" y="688" width="16" height="4" rx="2" ry="2" fill="#ccc" opacity="0.6"/>
<rect x="243" y="688" width="14" height="4" rx="2" ry="2" fill="#ccc" opacity="0.6"/>
</g>
<g filter="url(#f32)">
<rect x="134.2" y="669.6" width="19" height="2.8" rx="1.4" ry="1.4" fill="#888" opacity="0.8"/>
<rect x="166.6" y="667.8" width="28" height="7.4" rx="3.7" ry="3.7" fill="#000"/>
<rect x="206" y="668.8" width="23" height="3.2" rx="1.6" ry="1.6" fill="#666" opacity="0.85"/>
<rect x="242" y="668.6" width="23" height="2.8" rx="1.4" ry="1.4" fill="#777" opacity="0.8"/>
</g>
<rect x="103" y="638" width="198.2" height="62.3" fill="none" stroke="#000" stroke-width="2"/>
<rect x="103" y="709.5" width="198.2" height="62.5" fill="#f3f3f3"/>
<g filter="url(#f33)">
<rect x="135" y="732" width="130" height="20" rx="10" ry="10" fill="#888" opacity="0.35"/>
</g>
<g filter="url(#f34)">
<rect x="134.5" y="735.05" width="27" height="13.5" rx="6.75" ry="6.75" fill="#000"/>
<rect x="168.45" y="735.3" width="28.5" height="13" rx="6.5" ry="6.5" fill="#000"/>
<rect x="205.55" y="735.55" width="27.5" height="12.5" rx="6.25" ry="6.25" fill="#000"/>
<rect x="241.05" y="735.55" width="27.5" height="12.5" rx="6.25" ry="6.25" fill="#000"/>
</g>
<rect x="103" y="709.5" width="198.2" height="62.5" fill="none" stroke="#000" stroke-width="2"/>
<rect x="308.4" y="425" width="196.2" height="62.8" fill="#e4e4e4"/>
<g filter="url(#f35)">
<rect x="360" y="421" width="30" height="70" rx="3" ry="3" fill="#bbb" opacity="0.4"/>
<rect x="489" y="421" width="16" height="70" rx="3" ry="3" fill="#fff" opacity="0.7"/>
</g>
<g filter="url(#f36)">
<rect x="401.6" y="422" width="27" height="16" rx="8" ry="8" fill="#333" opacity="0.55"/>
<rect x="440.4" y="422" width="25" height="16" rx="8" ry="8" fill="#333" opacity="0.55"/>
<rect x="327.5" y="477" width="23" height="12" rx="6" ry="6" fill="#444" opacity="0.4"/>
<rect x="401.6" y="477" width="27" height="12" rx="6" ry="6" fill="#444" opacity="0.4"/>
<rect x="440.4" y="477" width="25" height="12" rx="6" ry="6" fill="#444" opacity="0.4"/>
</g>
<g filter="url(#f37)">
<rect x="326.5" y="421" width="25" height="70" rx="3" ry="3" fill="#777" opacity="0.6"/>
<rect x="400.6" y="421" width="29" height="70" rx="3" ry="3" fill="#888" opacity="0.6"/>
<rect x="439.4" y="421" width="27" height="70" rx="3" ry="3" fill="#888" opacity="0.6"/>
</g>
<g filter="url(#f38)">
<rect x="327" y="418" width="24" height="20" rx="10" ry="10" fill="#000" opacity="0.85"/>
</g>
<g filter="url(#f39)">
<rect x="326" y="450.65" width="26" height="12.5" rx="6.25" ry="6.25" fill="#000"/>
<rect x="399.6" y="449.4" width="31" height="15" rx="7.5" ry="7.5" fill="#000"/>
<rect x="438.4" y="448.85" width="29" height="13.5" rx="6.75" ry="6.75" fill="#000"/>
</g>
<g filter="url(#f40)">
<rect x="362.2" y="451.9" width="25" height="5" rx="2.5" ry="2.5" fill="#888" opacity="0.8"/>
</g>
<rect x="308.4" y="425" width="196.2" height="62.8" filter="url(#nz)" opacity="0.1"/>
<rect x="308.4" y="425" width="196.2" height="62.8" fill="none" stroke="#000" stroke-width="2"/>
<rect x="308.4" y="496.9" width="196.2" height="60.6" fill="#fbfbfb"/>
<g filter="url(#f41)">
<rect x="320" y="539" width="140" height="10" rx="5" ry="5" fill="#ccc" opacity="0.6"/>
<rect x="361" y="536" width="30" height="10" rx="5" ry="5" fill="#aaa" opacity="0.5"/>
</g>
<g filter="url(#f42)">
<rect x="322.75" y="523.3" width="26.5" height="5.4" rx="2.7" ry="2.7" fill="#000"/>
<rect x="359.85" y="522.1" width="31.5" height="6.6" rx="3.3" ry="3.3" fill="#000"/>
<rect x="400.65" y="523.7" width="25.5" height="4.6" rx="2.3" ry="2.3" fill="#000"/>
<rect x="439.5" y="523.5" width="17" height="4.2" rx="2.1" ry="2.1" fill="#000"/>
<rect x="455" y="524.9" width="10" height="2.6" rx="1.3" ry="1.3" fill="#666" opacity="0.8"/>
</g>
<rect x="308.4" y="496.9" width="196.2" height="60.6" fill="none" stroke="#000" stroke-width="2"/>
<rect x="308.4" y="566.7" width="196.2" height="62.3" fill="#dbdbdb"/>
<g filter="url(#f43)">
<rect x="325" y="591.1" width="17" height="8.2" rx="4.1" ry="4.1" fill="#000"/>
<rect x="366.9" y="595.8" width="12" height="2.6" rx="1.3" ry="1.3" fill="#999" opacity="0.8"/>
</g>
<g filter="url(#f44)">
<rect x="336" y="594.4" width="22" height="4.4" rx="2.2" ry="2.2" fill="#000"/>
<rect x="400.2" y="595.6" width="28" height="4.4" rx="2.2" ry="2.2" fill="#000" transform="rotate(-3 414.2 597.8)"/>
<rect x="436.8" y="594.9" width="27" height="4.4" rx="2.2" ry="2.2" fill="#000"/>
</g>
<rect x="308.4" y="566.7" width="196.2" height="62.3" filter="url(#nz)" opacity="0.15"/>
<rect x="308.4" y="566.7" width="196.2" height="62.3" fill="none" stroke="#000" stroke-width="2"/>
<rect x="308.4" y="638" width="196.2" height="62.3" fill="#f1f1f1"/>
<g filter="url(#f45)">
<rect x="310" y="648" width="190" height="34" rx="4" ry="4" fill="#d0d0d0" opacity="0.8"/>
</g>
<g filter="url(#f46)">
<rect x="329" y="663.25" width="21" height="6.5" rx="3.25" ry="3.25" fill="#666" opacity="0.8"/>
<rect x="406.3" y="663.9" width="23" height="4.6" rx="2.3" ry="2.3" fill="#999" opacity="0.7"/>
<rect x="445.8" y="664" width="23" height="4" rx="2" ry="2" fill="#aaa" opacity="0.6"/>
</g>
<g filter="url(#f47)">
<rect x="366.8" y="663.15" width="28" height="8.5" rx="4.25" ry="4.25" fill="#111" opacity="0.95"/>
<rect x="369.3" y="650.7" width="23" height="4.6" rx="2.3" ry="2.3" fill="#555" opacity="0.8"/>
</g>
<rect x="308.4" y="638" width="196.2" height="62.3" filter="url(#nz)" opacity="0.09"/>
<rect x="308.4" y="638" width="196.2" height="62.3" fill="none" stroke="#000" stroke-width="2"/>
<rect x="308.4" y="709.5" width="196.2" height="62.5" fill="#f1f1f1"/>
<g filter="url(#f48)">
<rect x="335" y="729" width="140" height="22" rx="11" ry="11" fill="#888" opacity="0.4"/>
</g>
<g filter="url(#f49)">
<rect x="332.5" y="738" width="30" height="22" rx="11" ry="11" fill="#999" opacity="0.5"/>
</g>
<g filter="url(#f50)">
<rect x="332.25" y="735.05" width="30.5" height="13.5" rx="6.75" ry="6.75" fill="#000"/>
<rect x="369.95" y="734.75" width="30.5" height="12.5" rx="6.25" ry="6.25" fill="#000"/>
<rect x="408.75" y="733.85" width="28.5" height="11.5" rx="5.75" ry="5.75" fill="#000"/>
<rect x="446.05" y="730.25" width="28.5" height="11.5" rx="5.75" ry="5.75" fill="#000"/>
</g>
<rect x="308.4" y="709.5" width="196.2" height="62.5" fill="none" stroke="#000" stroke-width="2"/>
<text class="s" font-size="19" stroke="#000" textLength="136.3" lengthAdjust="spacingAndGlyphs" x="509" y="467.8">Cleaved-caspase3</text>
<text class="s" font-size="19" stroke="#000" textLength="71.5" lengthAdjust="spacingAndGlyphs" x="509" y="542.4">Caspase3</text>
<text class="s" font-size="19" stroke="#000" x="509" y="610.3">Cleaved-PARP</text>
<text class="s" font-size="19" stroke="#000" x="509" y="682">PARP</text>
<text class="s" font-size="19" stroke="#000" x="509" y="750.6">GAPDH</text>
<text class="s" font-size="19" text-anchor="middle" stroke="#000" textLength="47" lengthAdjust="spacingAndGlyphs" x="205" y="794.9">SW48</text>
<text class="s" font-size="19" text-anchor="middle" stroke="#000" textLength="47" lengthAdjust="spacingAndGlyphs" x="401.5" y="794.9">SW48</text>
<text class="s b" font-size="19" x="668" y="487.6">e</text>
<text class="s" font-size="18.7" text-anchor="middle" fill="#0000ff" stroke="#0000ff" textLength="57" lengthAdjust="spacingAndGlyphs" x="774.5" y="491.6">Control</text>
<text class="s" font-size="18.7" text-anchor="middle" fill="#00b050" stroke="#00b050" textLength="35.4" lengthAdjust="spacingAndGlyphs" x="873.3" y="491.6">5-Fu</text>
<text class="s" font-size="18.7" text-anchor="middle" fill="#ff0000" stroke="#ff0000" textLength="40.6" lengthAdjust="spacingAndGlyphs" x="977.7" y="491.6">OXA</text>
<path d="M727 730V569.4H748V730" fill="#fff" stroke="#000" stroke-width="2"/>
<path d="M760.4 730V551.4H781.4V730" fill="#fff" stroke="#000" stroke-width="2"/>
<path d="M794.4 730V568H815.4V730" fill="#fff" stroke="#000" stroke-width="2"/>
<path d="M828 730V692H849V730" fill="#fff" stroke="#000" stroke-width="2"/>
<path d="M861.6 730V596.6H883V730" fill="#fff" stroke="#000" stroke-width="2"/>
<path d="M895.6 730V641.6H916.6V730" fill="#fff" stroke="#000" stroke-width="2"/>
<path d="M929.4 730V699H950.4V730" fill="#fff" stroke="#000" stroke-width="2"/>
<path d="M963 730V599H984.4V730" fill="#fff" stroke="#000" stroke-width="2"/>
<path d="M997 730V650.6H1018V730" fill="#fff" stroke="#000" stroke-width="2"/>
<line x1="715" y1="502" x2="715" y2="731" stroke="#000" stroke-width="2"/>
<line x1="706" y1="730" x2="1032.4" y2="730" stroke="#000" stroke-width="2"/>
<line x1="706" y1="503" x2="715" y2="503" stroke="#000" stroke-width="2"/>
<text class="a b" font-size="15.5" text-anchor="end" x="703" y="508.55">3</text>
<line x1="706" y1="579" x2="715" y2="579" stroke="#000" stroke-width="2"/>
<text class="a b" font-size="15.5" text-anchor="end" x="703" y="584.55">2</text>
<line x1="706" y1="654.2" x2="715" y2="654.2" stroke="#000" stroke-width="2"/>
<text class="a b" font-size="15.5" text-anchor="end" x="703" y="659.75">1</text>
<line x1="706" y1="730" x2="715" y2="730" stroke="#000" stroke-width="2"/>
<text class="a b" font-size="15.5" text-anchor="end" x="703" y="735.55">0</text>
<line x1="737" y1="730" x2="737" y2="739.5" stroke="#000" stroke-width="2"/>
<line x1="771" y1="730" x2="771" y2="739.5" stroke="#000" stroke-width="2"/>
<line x1="804.6" y1="730" x2="804.6" y2="739.5" stroke="#000" stroke-width="2"/>
<line x1="838.4" y1="730" x2="838.4" y2="739.5" stroke="#000" stroke-width="2"/>
<line x1="872.4" y1="730" x2="872.4" y2="739.5" stroke="#000" stroke-width="2"/>
<line x1="906" y1="730" x2="906" y2="739.5" stroke="#000" stroke-width="2"/>
<line x1="940" y1="730" x2="940" y2="739.5" stroke="#000" stroke-width="2"/>
<line x1="973.6" y1="730" x2="973.6" y2="739.5" stroke="#000" stroke-width="2"/>
<line x1="1007.4" y1="730" x2="1007.4" y2="739.5" stroke="#000" stroke-width="2"/>
<text class="s b" font-size="15" text-anchor="middle" textLength="117" lengthAdjust="spacingAndGlyphs" transform="translate(686,616.5) rotate(-90)">Tumor weight(g)</text>
<path d="M724.3 500.3H821.35M724.3 734H821.35" fill="none" stroke="#0000ff" stroke-width="1.9" stroke-dasharray="4.9 1.5"/>
<path d="M725.25 500.3V734M820.4 500.3V734" fill="none" stroke="#0000ff" stroke-width="1.9" stroke-dasharray="4 1.2"/>
<path d="M824.45 500.3H922.95M824.45 734H922.95" fill="none" stroke="#00b050" stroke-width="1.9" stroke-dasharray="4.9 1.5"/>
<path d="M825.4 500.3V734M922 500.3V734" fill="none" stroke="#00b050" stroke-width="1.9" stroke-dasharray="4 1.2"/>
<path d="M925.65 500.3H1024.95M925.65 734H1024.95" fill="none" stroke="#ff0000" stroke-width="1.9" stroke-dasharray="4.9 1.5"/>
<path d="M926.6 500.3V734M1024 500.3V734" fill="none" stroke="#ff0000" stroke-width="1.9" stroke-dasharray="4 1.2"/>
<line x1="740" y1="521.4" x2="797" y2="521.4" stroke="#000" stroke-width="1.1"/>
<path d="M762.6 521.4V507.4H832.6V659" fill="none" stroke="#000" stroke-width="1.1"/>
<text class="a" font-size="15.7" text-anchor="middle" letter-spacing="1.1" x="800.95" y="512.14">***</text>
<path d="M840.4 651.6V561H869V571.6" fill="none" stroke="#000" stroke-width="1.1"/>
<text class="a" font-size="15.7" text-anchor="middle" letter-spacing="1.1" x="855.55" y="565.74">***</text>
<path d="M876.4 572.6V562H900V606" fill="none" stroke="#000" stroke-width="1.1"/>
<text class="a" font-size="15.7" text-anchor="middle" letter-spacing="1.1" x="888.55" y="566.74">**</text>
<path d="M940 679.4V561H969.6V571.6" fill="none" stroke="#000" stroke-width="1.1"/>
<text class="a" font-size="15.7" text-anchor="middle" letter-spacing="1.1" x="955.55" y="565.74">***</text>
<path d="M978.4 571.6V561H1009V620" fill="none" stroke="#000" stroke-width="1.1"/>
<text class="a" font-size="15.7" text-anchor="middle" letter-spacing="1.1" x="994.55" y="565.74">***</text>
<line x1="737.5" y1="563" x2="737.5" y2="576" stroke="#000" stroke-width="1"/>
<line x1="733" y1="563" x2="742" y2="563" stroke="#000" stroke-width="1"/>
<line x1="733" y1="576" x2="742" y2="576" stroke="#000" stroke-width="1"/>
<line x1="771" y1="545" x2="771" y2="557" stroke="#000" stroke-width="1"/>
<line x1="766.5" y1="545" x2="775.5" y2="545" stroke="#000" stroke-width="1"/>
<line x1="766.5" y1="557" x2="775.5" y2="557" stroke="#000" stroke-width="1"/>
<line x1="805" y1="558" x2="805" y2="576" stroke="#000" stroke-width="1"/>
<line x1="800.5" y1="558" x2="809.5" y2="558" stroke="#000" stroke-width="1"/>
<line x1="800.5" y1="576" x2="809.5" y2="576" stroke="#000" stroke-width="1"/>
<line x1="838.5" y1="686" x2="838.5" y2="697" stroke="#000" stroke-width="1"/>
<line x1="834" y1="686" x2="843" y2="686" stroke="#000" stroke-width="1"/>
<line x1="834" y1="697" x2="843" y2="697" stroke="#000" stroke-width="1"/>
<line x1="872.3" y1="581" x2="872.3" y2="610" stroke="#000" stroke-width="1"/>
<line x1="866.8" y1="581" x2="877.8" y2="581" stroke="#000" stroke-width="1"/>
<line x1="866.8" y1="610" x2="877.8" y2="610" stroke="#000" stroke-width="1"/>
<line x1="906" y1="634" x2="906" y2="648" stroke="#000" stroke-width="1"/>
<line x1="901.5" y1="634" x2="910.5" y2="634" stroke="#000" stroke-width="1"/>
<line x1="901.5" y1="648" x2="910.5" y2="648" stroke="#000" stroke-width="1"/>
<line x1="940" y1="692" x2="940" y2="706" stroke="#000" stroke-width="1"/>
<line x1="935.5" y1="692" x2="944.5" y2="692" stroke="#000" stroke-width="1"/>
<line x1="935.5" y1="706" x2="944.5" y2="706" stroke="#000" stroke-width="1"/>
<line x1="973.7" y1="594" x2="973.7" y2="606" stroke="#000" stroke-width="1"/>
<line x1="969.2" y1="594" x2="978.2" y2="594" stroke="#000" stroke-width="1"/>
<line x1="969.2" y1="606" x2="978.2" y2="606" stroke="#000" stroke-width="1"/>
<line x1="1007.5" y1="638" x2="1007.5" y2="662" stroke="#000" stroke-width="1"/>
<line x1="1002" y1="638" x2="1013" y2="638" stroke="#000" stroke-width="1"/>
<line x1="1002" y1="662" x2="1013" y2="662" stroke="#000" stroke-width="1"/>
<circle cx="734.4" cy="556.4" r="4.3" fill="#000"/>
<circle cx="740.4" cy="563.4" r="4.3" fill="#000"/>
<circle cx="731" cy="571" r="4.3" fill="#000"/>
<circle cx="737" cy="572" r="4.3" fill="#000"/>
<circle cx="743" cy="579.6" r="4.3" fill="#000"/>
<rect x="766.6" y="536.6" width="8.8" height="8.8" fill="#000"/>
<rect x="760.6" y="543.6" width="8.8" height="8.8" fill="#000"/>
<rect x="772.6" y="550.6" width="8.8" height="8.8" fill="#000"/>
<rect x="767.6" y="552.6" width="8.8" height="8.8" fill="#000"/>
<polygon points="798.6,552.7 803.1,561.3 794.1,561.3" fill="#000"/>
<polygon points="805,559.7 809.5,568.3 800.5,568.3" fill="#000"/>
<polygon points="811,559.7 815.5,568.3 806.5,568.3" fill="#000"/>
<polygon points="801.6,567.7 806.1,576.3 797.1,576.3" fill="#000"/>
<polygon points="808,575.7 812.5,584.3 803.5,584.3" fill="#000"/>
<polygon points="835.6,695.3 840.1,686.7 831.1,686.7" fill="#000"/>
<polygon points="840,688.3 844.5,679.7 835.5,679.7" fill="#000"/>
<polygon points="844.4,704.3 848.9,695.7 839.9,695.7" fill="#000"/>
<polygon points="833,694.3 837.5,685.7 828.5,685.7" fill="#000"/>
<polygon points="841.6,688.3 846.1,679.7 837.1,679.7" fill="#000"/>
<polygon points="866.6,574.5 871.1,579 866.6,583.5 862.1,579" fill="#000"/>
<polygon points="878,582.1 882.5,586.6 878,591.1 873.5,586.6" fill="#000"/>
<polygon points="866.6,589.1 871.1,593.6 866.6,598.1 862.1,593.6" fill="#000"/>
<polygon points="878,597.1 882.5,601.6 878,606.1 873.5,601.6" fill="#000"/>
<polygon points="872.4,612.5 876.9,617 872.4,621.5 867.9,617" fill="#000"/>
<circle cx="906" cy="631.6" r="3.6" fill="none" stroke="#000" stroke-width="1.4"/>
<circle cx="901" cy="639" r="3.6" fill="none" stroke="#000" stroke-width="1.4"/>
<circle cx="905" cy="640" r="3.6" fill="none" stroke="#000" stroke-width="1.4"/>
<circle cx="908" cy="647" r="3.6" fill="none" stroke="#000" stroke-width="1.4"/>
<circle cx="911" cy="647" r="3.6" fill="none" stroke="#000" stroke-width="1.4"/>
<rect x="930.3" y="688.3" width="8.6" height="8.6" fill="none" stroke="#000" stroke-width="1.5"/>
<rect x="935.7" y="688.3" width="8.6" height="8.6" fill="none" stroke="#000" stroke-width="1.5"/>
<rect x="941.1" y="688.3" width="8.6" height="8.6" fill="none" stroke="#000" stroke-width="1.5"/>
<rect x="932.6" y="704.2" width="7.6" height="7.6" fill="none" stroke="#000" stroke-width="1.5"/>
<rect x="939.6" y="704.2" width="7.6" height="7.6" fill="none" stroke="#000" stroke-width="1.5"/>
<polygon points="968,589.25 972,596.75 964,596.75" fill="none" stroke="#000" stroke-width="1.4"/>
<polygon points="974,589.25 978,596.75 970,596.75" fill="none" stroke="#000" stroke-width="1.4"/>
<polygon points="980,589.25 984,596.75 976,596.75" fill="none" stroke="#000" stroke-width="1.4"/>
<polygon points="970,599.25 974,606.75 966,606.75" fill="none" stroke="#000" stroke-width="1.4"/>
<polygon points="976.4,606.25 980.4,613.75 972.4,613.75" fill="none" stroke="#000" stroke-width="1.4"/>
<polygon points="1007.4,634.75 1011.4,627.25 1003.4,627.25" fill="none" stroke="#000" stroke-width="1.4"/>
<polygon points="1007.4,648.75 1011.4,641.25 1003.4,641.25" fill="none" stroke="#000" stroke-width="1.4"/>
<polygon points="1003,658.75 1007,651.25 999,651.25" fill="none" stroke="#000" stroke-width="1.4"/>
<polygon points="1010,658.75 1014,651.25 1006,651.25" fill="none" stroke="#000" stroke-width="1.4"/>
<polygon points="1014,666.75 1018,659.25 1010,659.25" fill="none" stroke="#000" stroke-width="1.4"/>
<text class="s b" font-size="15.5" text-anchor="end" transform="translate(743.5,754.5) rotate(-45)">DMSO</text>
<text class="s b" font-size="15.5" text-anchor="end" transform="translate(777.5,754.5) rotate(-45)">IL-6</text>
<text class="s b" font-size="15.5" text-anchor="end" transform="translate(811.1,754.5) rotate(-45)">IL-6+CQ</text>
<text class="s b" font-size="15.5" text-anchor="end" transform="translate(844.9,754.5) rotate(-45)">DMSO</text>
<text class="s b" font-size="15.5" text-anchor="end" transform="translate(878.9,754.5) rotate(-45)">IL-6</text>
<text class="s b" font-size="15.5" text-anchor="end" transform="translate(912.5,754.5) rotate(-45)">IL-6+CQ</text>
<text class="s b" font-size="15.5" text-anchor="end" transform="translate(946.5,754.5) rotate(-45)">DMSO</text>
<text class="s b" font-size="15.5" text-anchor="end" transform="translate(980.1,754.5) rotate(-45)">IL-6</text>
<text class="s b" font-size="15.5" text-anchor="end" transform="translate(1013.9,754.5) rotate(-45)">IL-6+CQ</text>
<text class="s b" font-size="19" x="1108" y="467">f</text>
<polyline points="1189.4,697 1232.6,688.6 1276,685 1319.6,669 1363,664.4 1406,645.6" fill="none" stroke="#1a1aff" stroke-width="1.4"/>
<line x1="1276" y1="681" x2="1276" y2="689" stroke="#1a1aff" stroke-width="1.2"/>
<line x1="1273.4" y1="681" x2="1278.6" y2="681" stroke="#1a1aff" stroke-width="1.2"/>
<line x1="1273.4" y1="689" x2="1278.6" y2="689" stroke="#1a1aff" stroke-width="1.2"/>
<rect x="1185.7" y="693.3" width="7.4" height="7.4" fill="#000"/>
<rect x="1188.17" y="695.77" width="2.47" height="2.47" fill="#1a1aff"/>
<rect x="1228.9" y="684.9" width="7.4" height="7.4" fill="#000"/>
<rect x="1231.37" y="687.37" width="2.47" height="2.47" fill="#1a1aff"/>
<rect x="1272.3" y="681.3" width="7.4" height="7.4" fill="#000"/>
<rect x="1274.77" y="683.77" width="2.47" height="2.47" fill="#1a1aff"/>
<rect x="1315.9" y="665.3" width="7.4" height="7.4" fill="#000"/>
<rect x="1318.37" y="667.77" width="2.47" height="2.47" fill="#1a1aff"/>
<rect x="1359.3" y="660.7" width="7.4" height="7.4" fill="#000"/>
<rect x="1361.77" y="663.17" width="2.47" height="2.47" fill="#1a1aff"/>
<rect x="1402.3" y="641.9" width="7.4" height="7.4" fill="#000"/>
<rect x="1404.77" y="644.37" width="2.47" height="2.47" fill="#1a1aff"/>
<polyline points="1189.4,697 1232.6,687.6 1276,682 1319.6,670 1363,666 1406,645" fill="none" stroke="#f58220" stroke-width="1.4"/>
<line x1="1276" y1="679" x2="1276" y2="685" stroke="#f58220" stroke-width="1.2"/>
<line x1="1273.4" y1="679" x2="1278.6" y2="679" stroke="#f58220" stroke-width="1.2"/>
<line x1="1273.4" y1="685" x2="1278.6" y2="685" stroke="#f58220" stroke-width="1.2"/>
<polygon points="1189.4,699.52 1192.2,694.48 1186.6,694.48" fill="#f58220"/>
<polygon points="1232.6,690.12 1235.4,685.08 1229.8,685.08" fill="#f58220"/>
<polygon points="1276,684.52 1278.8,679.48 1273.2,679.48" fill="#f58220"/>
<polygon points="1319.6,672.52 1322.4,667.48 1316.8,667.48" fill="#f58220"/>
<polygon points="1363,668.52 1365.8,663.48 1360.2,663.48" fill="#f58220"/>
<polygon points="1406,647.52 1408.8,642.48 1403.2,642.48" fill="#f58220"/>
<polyline points="1189.4,697 1232.6,686.4 1276,677 1319.6,668 1363,655 1406,638" fill="none" stroke="#ee2a7b" stroke-width="1.4"/>
<line x1="1276" y1="673" x2="1276" y2="681" stroke="#ee2a7b" stroke-width="1.2"/>
<line x1="1273.4" y1="673" x2="1278.6" y2="673" stroke="#ee2a7b" stroke-width="1.2"/>
<line x1="1273.4" y1="681" x2="1278.6" y2="681" stroke="#ee2a7b" stroke-width="1.2"/>
<line x1="1406" y1="635" x2="1406" y2="641" stroke="#ee2a7b" stroke-width="1.2"/>
<line x1="1403.4" y1="635" x2="1408.6" y2="635" stroke="#ee2a7b" stroke-width="1.2"/>
<line x1="1403.4" y1="641" x2="1408.6" y2="641" stroke="#ee2a7b" stroke-width="1.2"/>
<polygon points="1189.4,700.78 1193.6,693.22 1185.2,693.22" fill="#000"/>
<polygon points="1232.6,690.18 1236.8,682.62 1228.4,682.62" fill="#000"/>
<polygon points="1276,680.78 1280.2,673.22 1271.8,673.22" fill="#000"/>
<polygon points="1319.6,671.78 1323.8,664.22 1315.4,664.22" fill="#000"/>
<polygon points="1363,658.78 1367.2,651.22 1358.8,651.22" fill="#000"/>
<polygon points="1406,641.78 1410.2,634.22 1401.8,634.22" fill="#000"/>
<polyline points="1189.4,697 1232.6,685 1276,679 1319.6,666.6 1363,653 1406,636" fill="none" stroke="#1fc41f" stroke-width="1.4"/>
<circle cx="1189.4" cy="697" r="3.7" fill="#000"/>
<circle cx="1189.4" cy="697" r="1.48" fill="#1fc41f"/>
<circle cx="1232.6" cy="685" r="3.7" fill="#000"/>
<circle cx="1232.6" cy="685" r="1.48" fill="#1fc41f"/>
<circle cx="1276" cy="679" r="3.7" fill="#000"/>
<circle cx="1276" cy="679" r="1.48" fill="#1fc41f"/>
<circle cx="1319.6" cy="666.6" r="3.7" fill="#000"/>
<circle cx="1319.6" cy="666.6" r="1.48" fill="#1fc41f"/>
<circle cx="1363" cy="653" r="3.7" fill="#000"/>
<circle cx="1363" cy="653" r="1.48" fill="#1fc41f"/>
<circle cx="1406" cy="636" r="3.7" fill="#000"/>
<circle cx="1406" cy="636" r="1.48" fill="#1fc41f"/>
<polyline points="1189.4,697 1232.6,677 1276,665.2 1319.6,644.4 1363,632.4 1406,612.6" fill="none" stroke="#1fc41f" stroke-width="1.4"/>
<polygon points="1189.4,694.2 1192.2,697 1189.4,699.8 1186.6,697" fill="#1fc41f"/>
<polygon points="1232.6,674.2 1235.4,677 1232.6,679.8 1229.8,677" fill="#1fc41f"/>
<polygon points="1276,662.4 1278.8,665.2 1276,668 1273.2,665.2" fill="#1fc41f"/>
<polygon points="1319.6,641.6 1322.4,644.4 1319.6,647.2 1316.8,644.4" fill="#1fc41f"/>
<polygon points="1363,629.6 1365.8,632.4 1363,635.2 1360.2,632.4" fill="#1fc41f"/>
<polygon points="1406,609.8 1408.8,612.6 1406,615.4 1403.2,612.6" fill="#1fc41f"/>
<polyline points="1189.4,697 1232.6,674.2 1276,660.5 1319.6,639.4 1363,619.4 1406,601.6" fill="none" stroke="#c026d3" stroke-width="1.4"/>
<line x1="1363" y1="613.4" x2="1363" y2="625.4" stroke="#c026d3" stroke-width="1.2"/>
<line x1="1360.4" y1="613.4" x2="1365.6" y2="613.4" stroke="#c026d3" stroke-width="1.2"/>
<line x1="1360.4" y1="625.4" x2="1365.6" y2="625.4" stroke="#c026d3" stroke-width="1.2"/>
<line x1="1406" y1="596.1" x2="1406" y2="607.1" stroke="#c026d3" stroke-width="1.2"/>
<line x1="1403.4" y1="596.1" x2="1408.6" y2="596.1" stroke="#c026d3" stroke-width="1.2"/>
<line x1="1403.4" y1="607.1" x2="1408.6" y2="607.1" stroke="#c026d3" stroke-width="1.2"/>
<polygon points="1189.4,693.22 1193.6,700.78 1185.2,700.78" fill="#000"/>
<polygon points="1232.6,670.42 1236.8,677.98 1228.4,677.98" fill="#000"/>
<polygon points="1276,656.72 1280.2,664.28 1271.8,664.28" fill="#000"/>
<polygon points="1319.6,635.62 1323.8,643.18 1315.4,643.18" fill="#000"/>
<polygon points="1363,615.62 1367.2,623.18 1358.8,623.18" fill="#000"/>
<polygon points="1406,597.82 1410.2,605.38 1401.8,605.38" fill="#000"/>
<polyline points="1189.4,697 1232.6,667 1276,644.5 1319.6,609 1363,591.4 1406,541.4" fill="none" stroke="#ee3b45" stroke-width="1.4"/>
<line x1="1319.6" y1="604" x2="1319.6" y2="614" stroke="#ee3b45" stroke-width="1.2"/>
<line x1="1317" y1="604" x2="1322.2" y2="604" stroke="#ee3b45" stroke-width="1.2"/>
<line x1="1317" y1="614" x2="1322.2" y2="614" stroke="#ee3b45" stroke-width="1.2"/>
<line x1="1363" y1="582.4" x2="1363" y2="600.4" stroke="#ee3b45" stroke-width="1.2"/>
<line x1="1360.4" y1="582.4" x2="1365.6" y2="582.4" stroke="#ee3b45" stroke-width="1.2"/>
<line x1="1360.4" y1="600.4" x2="1365.6" y2="600.4" stroke="#ee3b45" stroke-width="1.2"/>
<polygon points="1189.4,694.48 1192.2,699.52 1186.6,699.52" fill="#ee3b45"/>
<polygon points="1232.6,664.48 1235.4,669.52 1229.8,669.52" fill="#ee3b45"/>
<polygon points="1276,641.98 1278.8,647.02 1273.2,647.02" fill="#ee3b45"/>
<polygon points="1319.6,606.48 1322.4,611.52 1316.8,611.52" fill="#ee3b45"/>
<polygon points="1363,588.88 1365.8,593.92 1360.2,593.92" fill="#ee3b45"/>
<polygon points="1406,538.88 1408.8,543.92 1403.2,543.92" fill="#ee3b45"/>
<polyline points="1189.4,697 1232.6,662.4 1276,636.4 1319.6,594 1363,569.4 1406,531" fill="none" stroke="#e9b27d" stroke-width="1.4"/>
<line x1="1363" y1="564.4" x2="1363" y2="574.4" stroke="#e9b27d" stroke-width="1.2"/>
<line x1="1360.4" y1="564.4" x2="1365.6" y2="564.4" stroke="#e9b27d" stroke-width="1.2"/>
<line x1="1360.4" y1="574.4" x2="1365.6" y2="574.4" stroke="#e9b27d" stroke-width="1.2"/>
<rect x="1186.6" y="694.2" width="5.6" height="5.6" fill="#e9b27d"/>
<rect x="1229.8" y="659.6" width="5.6" height="5.6" fill="#e9b27d"/>
<rect x="1273.2" y="633.6" width="5.6" height="5.6" fill="#e9b27d"/>
<rect x="1316.8" y="591.2" width="5.6" height="5.6" fill="#e9b27d"/>
<rect x="1360.2" y="566.6" width="5.6" height="5.6" fill="#e9b27d"/>
<rect x="1403.2" y="528.2" width="5.6" height="5.6" fill="#e9b27d"/>
<polyline points="1189.4,697 1232.6,666.6 1276,645.6 1319.6,606 1363,579 1406,551.4" fill="none" stroke="#000000" stroke-width="1.4"/>
<line x1="1319.6" y1="601" x2="1319.6" y2="611" stroke="#000000" stroke-width="1.2"/>
<line x1="1317" y1="601" x2="1322.2" y2="601" stroke="#000000" stroke-width="1.2"/>
<line x1="1317" y1="611" x2="1322.2" y2="611" stroke="#000000" stroke-width="1.2"/>
<line x1="1363" y1="572.5" x2="1363" y2="585.5" stroke="#000000" stroke-width="1.2"/>
<line x1="1360.4" y1="572.5" x2="1365.6" y2="572.5" stroke="#000000" stroke-width="1.2"/>
<line x1="1360.4" y1="585.5" x2="1365.6" y2="585.5" stroke="#000000" stroke-width="1.2"/>
<circle cx="1189.4" cy="697" r="2.7" fill="#000000"/>
<circle cx="1232.6" cy="666.6" r="2.7" fill="#000000"/>
<circle cx="1276" cy="645.6" r="2.7" fill="#000000"/>
<circle cx="1319.6" cy="606" r="2.7" fill="#000000"/>
<circle cx="1363" cy="579" r="2.7" fill="#000000"/>
<circle cx="1406" cy="551.4" r="2.7" fill="#000000"/>
<line x1="1189.4" y1="470.8" x2="1189.4" y2="733.2" stroke="#000" stroke-width="2.4"/>
<line x1="1179" y1="732" x2="1450" y2="732" stroke="#000" stroke-width="2.4"/>
<line x1="1179" y1="472" x2="1189.4" y2="472" stroke="#000" stroke-width="2.4"/>
<text class="a b" font-size="18.5" text-anchor="end" textLength="43.2" lengthAdjust="spacingAndGlyphs" x="1175.4" y="480.4">2500</text>
<line x1="1179" y1="524.6" x2="1189.4" y2="524.6" stroke="#000" stroke-width="2.4"/>
<text class="a b" font-size="18.5" text-anchor="end" textLength="43.2" lengthAdjust="spacingAndGlyphs" x="1175.4" y="533">2000</text>
<line x1="1179" y1="577" x2="1189.4" y2="577" stroke="#000" stroke-width="2.4"/>
<text class="a b" font-size="18.5" text-anchor="end" textLength="43.2" lengthAdjust="spacingAndGlyphs" x="1175.4" y="585.4">1500</text>
<line x1="1179" y1="628.6" x2="1189.4" y2="628.6" stroke="#000" stroke-width="2.4"/>
<text class="a b" font-size="18.5" text-anchor="end" textLength="43.2" lengthAdjust="spacingAndGlyphs" x="1175.4" y="637">1000</text>
<line x1="1179" y1="680.4" x2="1189.4" y2="680.4" stroke="#000" stroke-width="2.4"/>
<text class="a b" font-size="18.5" text-anchor="end" textLength="32.4" lengthAdjust="spacingAndGlyphs" x="1175.4" y="688.8">500</text>
<line x1="1179" y1="732" x2="1189.4" y2="732" stroke="#000" stroke-width="2.4"/>
<text class="a b" font-size="18.5" text-anchor="end" textLength="10.8" lengthAdjust="spacingAndGlyphs" x="1175.4" y="740.4">0</text>
<line x1="1232.6" y1="732" x2="1232.6" y2="743" stroke="#000" stroke-width="2.4"/>
<line x1="1305" y1="732" x2="1305" y2="743" stroke="#000" stroke-width="2.4"/>
<line x1="1377.4" y1="732" x2="1377.4" y2="743" stroke="#000" stroke-width="2.4"/>
<line x1="1448.8" y1="732" x2="1448.8" y2="743" stroke="#000" stroke-width="2.4"/>
<text class="a b" font-size="19.5" text-anchor="middle" textLength="22.2" lengthAdjust="spacingAndGlyphs" x="1232.6" y="765.2">10</text>
<text class="a b" font-size="19.5" text-anchor="middle" textLength="22.2" lengthAdjust="spacingAndGlyphs" x="1305" y="765.2">15</text>
<text class="a b" font-size="19.5" text-anchor="middle" textLength="22.2" lengthAdjust="spacingAndGlyphs" x="1377.4" y="765.2">20</text>
<text class="a b" font-size="19.5" text-anchor="middle" textLength="22.2" lengthAdjust="spacingAndGlyphs" x="1450" y="765.2">25</text>
<text class="s" font-size="18.6" text-anchor="middle" stroke="#000" textLength="38" lengthAdjust="spacingAndGlyphs" x="1314.6" y="798">Days</text>
<text class="s b" font-size="18.3" text-anchor="middle" transform="translate(1120,602) rotate(-90)">Tumor Volume(mm<tspan dy="-7" font-size="12.5">3</tspan><tspan dy="7">)</tspan></text>
<line x1="1474.6" y1="456.3" x2="1502.5" y2="456.3" stroke="#000000" stroke-width="1.3"/>
<circle cx="1488.6" cy="456.3" r="2.7" fill="#000000"/>
<text class="s" font-size="20.6" stroke="#000" x="1518.6" y="462.9">DMSO</text>
<line x1="1474.6" y1="491.4" x2="1502.5" y2="491.4" stroke="#e9b27d" stroke-width="1.3"/>
<rect x="1485.8" y="488.6" width="5.6" height="5.6" fill="#e9b27d"/>
<text class="s" font-size="20.6" stroke="#000" x="1518.6" y="498">IL-6</text>
<line x1="1474.6" y1="526.6" x2="1502.5" y2="526.6" stroke="#ee3b45" stroke-width="1.3"/>
<polygon points="1488.6,524.88 1491.4,529.92 1485.8,529.92" fill="#ee3b45"/>
<text class="s" font-size="20.6" stroke="#000" x="1518.6" y="533.2">IL-6+CQ</text>
<line x1="1474.6" y1="561.8" x2="1502.5" y2="561.8" stroke="#f58220" stroke-width="1.3"/>
<polygon points="1488.6,564.32 1491.4,559.28 1485.8,559.28" fill="#f58220"/>
<text class="s" font-size="20.6" stroke="#000" x="1518.6" y="568.4">DMSO</text>
<line x1="1474.6" y1="596.9" x2="1502.5" y2="596.9" stroke="#1fc41f" stroke-width="1.3"/>
<polygon points="1488.6,594.1 1491.4,596.9 1488.6,599.7 1485.8,596.9" fill="#1fc41f"/>
<text class="s" font-size="20.6" stroke="#000" x="1518.6" y="603.5">IL-6</text>
<line x1="1474.6" y1="632.2" x2="1502.5" y2="632.2" stroke="#1fc41f" stroke-width="1.3"/>
<circle cx="1488.6" cy="632.2" r="3.7" fill="#000"/>
<circle cx="1488.6" cy="632.2" r="1.48" fill="#1fc41f"/>
<text class="s" font-size="20.6" stroke="#000" x="1518.6" y="638.8">IL-6+CQ</text>
<line x1="1474.6" y1="667.5" x2="1502.5" y2="667.5" stroke="#1a1aff" stroke-width="1.3"/>
<rect x="1484.9" y="663.8" width="7.4" height="7.4" fill="#000"/>
<rect x="1487.37" y="666.27" width="2.47" height="2.47" fill="#1a1aff"/>
<text class="s" font-size="20.6" stroke="#000" x="1518.6" y="674.1">DMSO</text>
<line x1="1474.6" y1="702.8" x2="1502.5" y2="702.8" stroke="#c026d3" stroke-width="1.3"/>
<polygon points="1488.6,699.82 1492.8,707.38 1484.4,707.38" fill="#000"/>
<text class="s" font-size="20.6" stroke="#000" x="1518.6" y="709.4">IL-6</text>
<line x1="1474.6" y1="737.9" x2="1502.5" y2="737.9" stroke="#ee2a7b" stroke-width="1.3"/>
<polygon points="1488.6,741.68 1492.8,734.12 1484.4,734.12" fill="#000"/>
<text class="s" font-size="20.6" stroke="#000" x="1518.6" y="744.5">IL-6+CQ</text>
<path d="M1596 477.3Q1598.6 477.3 1598.6 479.3V494.3Q1598.6 495.9 1600 495.9Q1598.6 495.9 1598.6 497.5V512.5Q1598.6 514.5 1596 514.5" fill="none" stroke="#000" stroke-width="1.6"/>
<text class="s" font-size="18.8" stroke="#000" textLength="54.4" lengthAdjust="spacingAndGlyphs" x="1610.3" y="504">DMSO</text>
<path d="M1596 577.3Q1598.6 577.3 1598.6 579.3V595.15Q1598.6 596.75 1600 596.75Q1598.6 596.75 1598.6 598.35V614.2Q1598.6 616.2 1596 616.2" fill="none" stroke="#000" stroke-width="1.6"/>
<text class="s" font-size="18.8" stroke="#000" textLength="34.2" lengthAdjust="spacingAndGlyphs" x="1611.8" y="605.1">5-Fu</text>
<path d="M1598 679Q1600.6 679 1600.6 681V697.1Q1600.6 698.7 1602 698.7Q1600.6 698.7 1600.6 700.3V716.4Q1600.6 718.4 1598 718.4" fill="none" stroke="#000" stroke-width="1.6"/>
<text class="s" font-size="18.8" stroke="#000" textLength="40.6" lengthAdjust="spacingAndGlyphs" x="1611" y="707.5">OXA</text>
<text class="s b" font-size="19" x="1667.4" y="476.6">g</text>
<text class="s" font-size="18.7" text-anchor="middle" fill="#00b050" stroke="#00b050" textLength="34.9" lengthAdjust="spacingAndGlyphs" x="1803.8" y="505.5">5-Fu</text>
<text class="s" font-size="18.7" text-anchor="middle" fill="#ff0000" stroke="#ff0000" textLength="41" lengthAdjust="spacingAndGlyphs" x="1910.2" y="505.5">OXA</text>
<path d="M1757.1 684.7V570.8H1777.1V684.7" fill="#fff" stroke="#000" stroke-width="1.9"/>
<path d="M1789.9 684.7V635H1810V684.7" fill="#fff" stroke="#000" stroke-width="1.9"/>
<path d="M1823 684.7V554.2H1842.8V684.7" fill="#fff" stroke="#000" stroke-width="1.9"/>
<path d="M1855.9 684.7V541.6H1875.9V684.7" fill="#fff" stroke="#000" stroke-width="1.9"/>
<path d="M1888.3 684.7V644H1908.5V684.7" fill="#fff" stroke="#000" stroke-width="1.9"/>
<path d="M1921.4 684.7V543.1H1941.5V684.7" fill="#fff" stroke="#000" stroke-width="1.9"/>
<line x1="1745.1" y1="498.15" x2="1745.1" y2="685.65" stroke="#000" stroke-width="1.9"/>
<line x1="1736.5" y1="684.7" x2="1954.8" y2="684.7" stroke="#000" stroke-width="1.9"/>
<line x1="1736.5" y1="499.1" x2="1745.1" y2="499.1" stroke="#000" stroke-width="1.9"/>
<text class="a b" font-size="14.2" text-anchor="end" x="1732.7" y="504.18">60</text>
<line x1="1736.5" y1="561.1" x2="1745.1" y2="561.1" stroke="#000" stroke-width="1.9"/>
<text class="a b" font-size="14.2" text-anchor="end" x="1732.7" y="566.18">40</text>
<line x1="1736.5" y1="622.8" x2="1745.1" y2="622.8" stroke="#000" stroke-width="1.9"/>
<text class="a b" font-size="14.2" text-anchor="end" x="1732.7" y="627.88">20</text>
<line x1="1736.5" y1="684.7" x2="1745.1" y2="684.7" stroke="#000" stroke-width="1.9"/>
<text class="a b" font-size="14.2" text-anchor="end" x="1732.7" y="689.78">0</text>
<line x1="1767.2" y1="684.7" x2="1767.2" y2="692.5" stroke="#000" stroke-width="1.9"/>
<line x1="1800" y1="684.7" x2="1800" y2="692.5" stroke="#000" stroke-width="1.9"/>
<line x1="1832.6" y1="684.7" x2="1832.6" y2="692.5" stroke="#000" stroke-width="1.9"/>
<line x1="1865.3" y1="684.7" x2="1865.3" y2="692.5" stroke="#000" stroke-width="1.9"/>
<line x1="1898.4" y1="684.7" x2="1898.4" y2="692.5" stroke="#000" stroke-width="1.9"/>
<line x1="1931.5" y1="684.7" x2="1931.5" y2="692.5" stroke="#000" stroke-width="1.9"/>
<text class="s" font-size="17.6" text-anchor="middle" stroke="#000" textLength="126" lengthAdjust="spacingAndGlyphs" transform="translate(1685.8,592) rotate(-90)">Apoptotic Index (%)</text>
<path d="M1749.65 509.5H1848.25M1749.65 695.6H1848.25" fill="none" stroke="#00b050" stroke-width="1.9" stroke-dasharray="4.9 1.5"/>
<path d="M1750.6 509.5V695.6M1847.3 509.5V695.6" fill="none" stroke="#00b050" stroke-width="1.9" stroke-dasharray="4.2 1.4"/>
<path d="M1851.35 509.5H1950.15M1851.35 695.6H1950.15" fill="none" stroke="#ff0000" stroke-width="1.9" stroke-dasharray="4.9 1.5"/>
<path d="M1852.3 509.5V695.6M1949.2 509.5V695.6" fill="none" stroke="#ff0000" stroke-width="1.9" stroke-dasharray="4.2 1.4"/>
<path d="M1766.9 552V547.6H1794.2V552" fill="none" stroke="#000" stroke-width="1.1"/>
<text class="a" font-size="14.6" text-anchor="middle" letter-spacing="1.35" x="1781.38" y="550.66">***</text>
<path d="M1805.2 543V538.9H1832.3V543" fill="none" stroke="#000" stroke-width="1.1"/>
<text class="a" font-size="14.6" text-anchor="middle" letter-spacing="1.35" x="1819.38" y="541.96">***</text>
<path d="M1869.8 525V520.9H1897.4V525" fill="none" stroke="#000" stroke-width="1.1"/>
<text class="a" font-size="14.6" text-anchor="middle" letter-spacing="1.35" x="1884.67" y="523.96">***</text>
<path d="M1900.7 525V520.9H1928V525" fill="none" stroke="#000" stroke-width="1.1"/>
<text class="a" font-size="14.6" text-anchor="middle" letter-spacing="1.35" x="1915.17" y="523.96">***</text>
<line x1="1767.1" y1="566" x2="1767.1" y2="576.5" stroke="#000" stroke-width="1"/>
<line x1="1762.6" y1="566" x2="1771.6" y2="566" stroke="#000" stroke-width="1"/>
<line x1="1762.6" y1="576.5" x2="1771.6" y2="576.5" stroke="#000" stroke-width="1"/>
<line x1="1800" y1="630" x2="1800" y2="640" stroke="#000" stroke-width="1"/>
<line x1="1795.5" y1="630" x2="1804.5" y2="630" stroke="#000" stroke-width="1"/>
<line x1="1795.5" y1="640" x2="1804.5" y2="640" stroke="#000" stroke-width="1"/>
<line x1="1832.9" y1="549" x2="1832.9" y2="559.5" stroke="#000" stroke-width="1"/>
<line x1="1828.4" y1="549" x2="1837.4" y2="549" stroke="#000" stroke-width="1"/>
<line x1="1828.4" y1="559.5" x2="1837.4" y2="559.5" stroke="#000" stroke-width="1"/>
<line x1="1865.9" y1="538" x2="1865.9" y2="545" stroke="#000" stroke-width="1"/>
<line x1="1861.4" y1="538" x2="1870.4" y2="538" stroke="#000" stroke-width="1"/>
<line x1="1861.4" y1="545" x2="1870.4" y2="545" stroke="#000" stroke-width="1"/>
<line x1="1898.4" y1="638.5" x2="1898.4" y2="648.5" stroke="#000" stroke-width="1"/>
<line x1="1893.9" y1="638.5" x2="1902.9" y2="638.5" stroke="#000" stroke-width="1"/>
<line x1="1893.9" y1="648.5" x2="1902.9" y2="648.5" stroke="#000" stroke-width="1"/>
<line x1="1931.5" y1="539" x2="1931.5" y2="547" stroke="#000" stroke-width="1"/>
<line x1="1927" y1="539" x2="1936" y2="539" stroke="#000" stroke-width="1"/>
<line x1="1927" y1="547" x2="1936" y2="547" stroke="#000" stroke-width="1"/>
<circle cx="1763.9" cy="561" r="3.9" fill="#000"/>
<circle cx="1769.9" cy="567" r="3.9" fill="#000"/>
<circle cx="1760.9" cy="570.5" r="3.9" fill="#000"/>
<circle cx="1766.9" cy="570.5" r="3.9" fill="#000"/>
<circle cx="1772.9" cy="579.5" r="3.9" fill="#000"/>
<rect x="1796" y="622.3" width="8" height="8" fill="#000"/>
<rect x="1790" y="628" width="8" height="8" fill="#000"/>
<rect x="1794.5" y="631" width="8" height="8" fill="#000"/>
<rect x="1798.2" y="634" width="8" height="8" fill="#000"/>
<rect x="1802.7" y="634" width="8" height="8" fill="#000"/>
<polygon points="1833,542.4 1837.25,550.4 1828.75,550.4" fill="#000"/>
<polygon points="1827.8,547.7 1832.05,555.7 1823.55,555.7" fill="#000"/>
<polygon points="1833.8,551.4 1838.05,559.4 1829.55,559.4" fill="#000"/>
<polygon points="1838.3,557.5 1842.55,565.5 1834.05,565.5" fill="#000"/>
<polygon points="1859.8,539.2 1864.05,531.2 1855.55,531.2" fill="#000"/>
<polygon points="1864.6,542.9 1868.85,534.9 1860.35,534.9" fill="#000"/>
<polygon points="1868.3,545.9 1872.55,537.9 1864.05,537.9" fill="#000"/>
<polygon points="1871.3,548.9 1875.55,540.9 1867.05,540.9" fill="#000"/>
<polygon points="1893.9,633.8 1898.4,638.3 1893.9,642.8 1889.4,638.3" fill="#000"/>
<polygon points="1899.9,640.3 1904.4,644.8 1899.9,649.3 1895.4,644.8" fill="#000"/>
<polygon points="1902.9,643.3 1907.4,647.8 1902.9,652.3 1898.4,647.8" fill="#000"/>
<polygon points="1905.2,642.3 1909.7,646.8 1905.2,651.3 1900.7,646.8" fill="#000"/>
<circle cx="1931.5" cy="535.9" r="3.5" fill="none" stroke="#000" stroke-width="1.4"/>
<circle cx="1925" cy="539.7" r="3.5" fill="none" stroke="#000" stroke-width="1.4"/>
<circle cx="1929.2" cy="542.4" r="3.5" fill="none" stroke="#000" stroke-width="1.4"/>
<circle cx="1932.2" cy="544.5" r="3.5" fill="none" stroke="#000" stroke-width="1.4"/>
<circle cx="1934.5" cy="546.4" r="3.5" fill="none" stroke="#000" stroke-width="1.4"/>
<circle cx="1937.2" cy="548.7" r="3.5" fill="none" stroke="#000" stroke-width="1.4"/>
<text class="s" font-size="15.5" text-anchor="end" stroke="#000" transform="translate(1773,706) scale(1.12,1) rotate(-45)">DMSO</text>
<text class="s" font-size="15.5" text-anchor="end" stroke="#000" transform="translate(1805.8,706) scale(1.12,1) rotate(-45)">IL-6</text>
<text class="s" font-size="15.5" text-anchor="end" stroke="#000" transform="translate(1838.4,706) scale(1.12,1) rotate(-45)">IL-6+CQ</text>
<text class="s" font-size="15.5" text-anchor="end" stroke="#000" transform="translate(1871.1,706) scale(1.12,1) rotate(-45)">DMSO</text>
<text class="s" font-size="15.5" text-anchor="end" stroke="#000" transform="translate(1904.2,706) scale(1.12,1) rotate(-45)">IL-6</text>
<text class="s" font-size="15.5" text-anchor="end" stroke="#000" transform="translate(1937.3,706) scale(1.12,1) rotate(-45)">IL-6+CQ</text>
<text class="s b" font-size="19" x="105" y="892">h</text>
<text class="s" font-size="18.7" text-anchor="middle" fill="#00b050" stroke="#00b050" textLength="35" lengthAdjust="spacingAndGlyphs" x="248.5" y="861.5">5-Fu</text>
<text class="s" font-size="18.7" text-anchor="middle" fill="#ff0000" stroke="#ff0000" textLength="41.4" lengthAdjust="spacingAndGlyphs" x="404.7" y="861.5">OXA</text>
<path d="M177 1096V949H195V1096" fill="#fff" stroke="#000" stroke-width="2"/>
<path d="M206.7 1096V1065.6H224.7V1096" fill="#fff" stroke="#000" stroke-width="2"/>
<path d="M236 1096V937.4H254V1096" fill="#fff" stroke="#000" stroke-width="2"/>
<path d="M265.6 1096V1064H283.6V1096" fill="#fff" stroke="#000" stroke-width="2"/>
<path d="M295 1096V944.6H313V1096" fill="#fff" stroke="#000" stroke-width="2"/>
<path d="M324.4 1096V944.4H342.4V1096" fill="#fff" stroke="#000" stroke-width="2"/>
<path d="M354 1096V1057.6H372V1096" fill="#fff" stroke="#000" stroke-width="2"/>
<path d="M383.6 1096V945H401.6V1096" fill="#fff" stroke="#000" stroke-width="2"/>
<path d="M413 1096V1057H431V1096" fill="#fff" stroke="#000" stroke-width="2"/>
<path d="M442.6 1096V937.6H460.6V1096" fill="#fff" stroke="#000" stroke-width="2"/>
<line x1="166.6" y1="919.6" x2="166.6" y2="1097" stroke="#000" stroke-width="2"/>
<line x1="158" y1="1096" x2="473" y2="1096" stroke="#000" stroke-width="2"/>
<line x1="158" y1="920.6" x2="166.6" y2="920.6" stroke="#000" stroke-width="2"/>
<text class="a b" font-size="13.2" text-anchor="end" textLength="20.61" lengthAdjust="spacingAndGlyphs" x="155" y="925.2">1.5</text>
<line x1="158" y1="979" x2="166.6" y2="979" stroke="#000" stroke-width="2"/>
<text class="a b" font-size="13.2" text-anchor="end" textLength="20.61" lengthAdjust="spacingAndGlyphs" x="155" y="983.6">1.0</text>
<line x1="158" y1="1037.4" x2="166.6" y2="1037.4" stroke="#000" stroke-width="2"/>
<text class="a b" font-size="13.2" text-anchor="end" textLength="20.61" lengthAdjust="spacingAndGlyphs" x="155" y="1042">0.5</text>
<line x1="158" y1="1096" x2="166.6" y2="1096" stroke="#000" stroke-width="2"/>
<text class="a b" font-size="13.2" text-anchor="end" textLength="20.61" lengthAdjust="spacingAndGlyphs" x="155" y="1100.6">0.0</text>
<line x1="185.6" y1="1096" x2="185.6" y2="1103" stroke="#000" stroke-width="2"/>
<line x1="215.4" y1="1096" x2="215.4" y2="1103" stroke="#000" stroke-width="2"/>
<line x1="245" y1="1096" x2="245" y2="1103" stroke="#000" stroke-width="2"/>
<line x1="274.6" y1="1096" x2="274.6" y2="1103" stroke="#000" stroke-width="2"/>
<line x1="304" y1="1096" x2="304" y2="1103" stroke="#000" stroke-width="2"/>
<line x1="333.6" y1="1096" x2="333.6" y2="1103" stroke="#000" stroke-width="2"/>
<line x1="363.4" y1="1096" x2="363.4" y2="1103" stroke="#000" stroke-width="2"/>
<line x1="393" y1="1096" x2="393" y2="1103" stroke="#000" stroke-width="2"/>
<line x1="422.6" y1="1096" x2="422.6" y2="1103" stroke="#000" stroke-width="2"/>
<line x1="452" y1="1096" x2="452" y2="1103" stroke="#000" stroke-width="2"/>
<text class="s" font-size="17.5" text-anchor="middle" stroke="#000" textLength="99" lengthAdjust="spacingAndGlyphs" transform="translate(125.2,1008.5) rotate(-90)">Tumor weight (g)</text>
<path d="M171.05 868.6H323.95M171.05 1088H323.95" fill="none" stroke="#00b050" stroke-width="1.9" stroke-dasharray="4.9 1.5"/>
<path d="M172 868.6V1088M323 868.6V1088" fill="none" stroke="#00b050" stroke-width="1.9" stroke-dasharray="3.8 1.5"/>
<path d="M324.65 868.6H479.55M324.65 1088H479.55" fill="none" stroke="#ff0000" stroke-width="1.9" stroke-dasharray="4.9 1.5"/>
<path d="M325.8 868.6V1088M478.6 868.6V1088" fill="none" stroke="#ff0000" stroke-width="1.35" stroke-dasharray="5 0.9"/>
<path d="M184.6 933.6V918H208.6V1036" fill="none" stroke="#000" stroke-width="1.6"/>
<text class="s b" font-size="17.5" text-anchor="middle" letter-spacing="0.6" x="196.5" y="918.25">***</text>
<path d="M213 1006V887.6H278V1006" fill="none" stroke="#000" stroke-width="1.6"/>
<path d="M213 913H245V934" fill="none" stroke="#000" stroke-width="1.6"/>
<text class="s b" font-size="17.5" text-anchor="middle" letter-spacing="0.6" x="230.3" y="913.25">***</text>
<text class="s i" font-size="20" text-anchor="middle" x="249.2" y="883.9">N.S</text>
<path d="M340 939V923H364V1041" fill="none" stroke="#000" stroke-width="1.6"/>
<text class="s b" font-size="17.5" text-anchor="middle" letter-spacing="0.6" x="351.3" y="925.05">***</text>
<path d="M369 1010.6V893H427.4V1012.4" fill="none" stroke="#000" stroke-width="1.6"/>
<path d="M369 918H401V934" fill="none" stroke="#000" stroke-width="1.6"/>
<text class="s b" font-size="17.5" text-anchor="middle" letter-spacing="0.6" x="384.3" y="920.05">***</text>
<text class="s i" font-size="20" text-anchor="middle" x="406" y="883.9">N.S</text>
<line x1="186" y1="943.5" x2="186" y2="955" stroke="#000" stroke-width="1"/>
<line x1="182" y1="943.5" x2="190" y2="943.5" stroke="#000" stroke-width="1"/>
<line x1="182" y1="955" x2="190" y2="955" stroke="#000" stroke-width="1"/>
<line x1="215.7" y1="1060" x2="215.7" y2="1071" stroke="#000" stroke-width="1"/>
<line x1="211.7" y1="1060" x2="219.7" y2="1060" stroke="#000" stroke-width="1"/>
<line x1="211.7" y1="1071" x2="219.7" y2="1071" stroke="#000" stroke-width="1"/>
<line x1="245" y1="932.5" x2="245" y2="943" stroke="#000" stroke-width="1"/>
<line x1="241" y1="932.5" x2="249" y2="932.5" stroke="#000" stroke-width="1"/>
<line x1="241" y1="943" x2="249" y2="943" stroke="#000" stroke-width="1"/>
<line x1="274.6" y1="1053.5" x2="274.6" y2="1073" stroke="#000" stroke-width="1"/>
<line x1="270.1" y1="1053.5" x2="279.1" y2="1053.5" stroke="#000" stroke-width="1"/>
<line x1="270.1" y1="1073" x2="279.1" y2="1073" stroke="#000" stroke-width="1"/>
<line x1="304" y1="929.4" x2="304" y2="958" stroke="#000" stroke-width="1"/>
<line x1="299.5" y1="929.4" x2="308.5" y2="929.4" stroke="#000" stroke-width="1"/>
<line x1="299.5" y1="958" x2="308.5" y2="958" stroke="#000" stroke-width="1"/>
<line x1="333.4" y1="934" x2="333.4" y2="955" stroke="#000" stroke-width="1"/>
<line x1="329.4" y1="934" x2="337.4" y2="934" stroke="#000" stroke-width="1"/>
<line x1="329.4" y1="955" x2="337.4" y2="955" stroke="#000" stroke-width="1"/>
<line x1="363" y1="1048" x2="363" y2="1067" stroke="#000" stroke-width="1"/>
<line x1="359" y1="1048" x2="367" y2="1048" stroke="#000" stroke-width="1"/>
<line x1="359" y1="1067" x2="367" y2="1067" stroke="#000" stroke-width="1"/>
<line x1="392.6" y1="936" x2="392.6" y2="953" stroke="#000" stroke-width="1"/>
<line x1="388.6" y1="936" x2="396.6" y2="936" stroke="#000" stroke-width="1"/>
<line x1="388.6" y1="953" x2="396.6" y2="953" stroke="#000" stroke-width="1"/>
<line x1="422" y1="1050" x2="422" y2="1064" stroke="#000" stroke-width="1"/>
<line x1="418" y1="1050" x2="426" y2="1050" stroke="#000" stroke-width="1"/>
<line x1="418" y1="1064" x2="426" y2="1064" stroke="#000" stroke-width="1"/>
<line x1="451.6" y1="932.5" x2="451.6" y2="943" stroke="#000" stroke-width="1"/>
<line x1="447.6" y1="932.5" x2="455.6" y2="932.5" stroke="#000" stroke-width="1"/>
<line x1="447.6" y1="943" x2="455.6" y2="943" stroke="#000" stroke-width="1"/>
<circle cx="181" cy="944.4" r="4" fill="#000"/>
<circle cx="186" cy="944.4" r="4" fill="#000"/>
<circle cx="191" cy="944.4" r="4" fill="#000"/>
<circle cx="183" cy="955.6" r="4" fill="#000"/>
<circle cx="189" cy="955.6" r="4" fill="#000"/>
<rect x="207.7" y="1057.2" width="7.6" height="7.6" fill="#000"/>
<rect x="215.7" y="1057.2" width="7.6" height="7.6" fill="#000"/>
<rect x="211.8" y="1068.6" width="7.6" height="7.6" fill="#000"/>
<rect x="209.2" y="1068.6" width="7.6" height="7.6" fill="#000"/>
<rect x="214.2" y="1068.6" width="7.6" height="7.6" fill="#000"/>
<polygon points="241,929.25 245.75,936.75 236.25,936.75" fill="#000"/>
<polygon points="250,929.25 254.75,936.75 245.25,936.75" fill="#000"/>
<polygon points="245,929.25 249.75,936.75 240.25,936.75" fill="#000"/>
<polygon points="242,940.85 246.75,948.35 237.25,948.35" fill="#000"/>
<polygon points="248,940.85 252.75,948.35 243.25,948.35" fill="#000"/>
<polygon points="274.6,1052.35 279.35,1044.85 269.85,1044.85" fill="#000"/>
<polygon points="270,1063.75 274.75,1056.25 265.25,1056.25" fill="#000"/>
<polygon points="279.6,1063.75 284.35,1056.25 274.85,1056.25" fill="#000"/>
<polygon points="270,1075.75 274.75,1068.25 265.25,1068.25" fill="#000"/>
<polygon points="279.6,1075.75 284.35,1068.25 274.85,1068.25" fill="#000"/>
<polygon points="298,928.1 302.3,932.4 298,936.7 293.7,932.4" fill="#000"/>
<polygon points="309,928.1 313.3,932.4 309,936.7 304.7,932.4" fill="#000"/>
<polygon points="298,940.3 302.3,944.6 298,948.9 293.7,944.6" fill="#000"/>
<polygon points="309,940.3 313.3,944.6 309,948.9 304.7,944.6" fill="#000"/>
<polygon points="304,963.1 308.3,967.4 304,971.7 299.7,967.4" fill="#000"/>
<ellipse cx="333.6" cy="932.4" rx="4" ry="3.4" fill="none" stroke="#000" stroke-width="1.9"/>
<ellipse cx="328" cy="944.4" rx="4" ry="3.4" fill="none" stroke="#000" stroke-width="1.9"/>
<ellipse cx="333.6" cy="944.4" rx="4" ry="3.4" fill="none" stroke="#000" stroke-width="1.9"/>
<ellipse cx="339.2" cy="944.4" rx="4" ry="3.4" fill="none" stroke="#000" stroke-width="1.9"/>
<ellipse cx="333.6" cy="956" rx="4" ry="3.4" fill="none" stroke="#000" stroke-width="1.9"/>
<rect x="355.5" y="1045.5" width="7" height="7" fill="none" stroke="#000" stroke-width="1.8"/>
<rect x="364.5" y="1045.5" width="7" height="7" fill="none" stroke="#000" stroke-width="1.8"/>
<rect x="355.5" y="1057.5" width="7" height="7" fill="none" stroke="#000" stroke-width="1.8"/>
<rect x="364.5" y="1057.5" width="7" height="7" fill="none" stroke="#000" stroke-width="1.8"/>
<rect x="359.9" y="1068.9" width="7" height="7" fill="none" stroke="#000" stroke-width="1.8"/>
<polygon points="393,929.6 397.1,936.4 388.9,936.4" fill="none" stroke="#000" stroke-width="1.9"/>
<polygon points="387.5,941 391.6,947.8 383.4,947.8" fill="none" stroke="#000" stroke-width="1.9"/>
<polygon points="393,941 397.1,947.8 388.9,947.8" fill="none" stroke="#000" stroke-width="1.9"/>
<polygon points="398.5,941 402.6,947.8 394.4,947.8" fill="none" stroke="#000" stroke-width="1.9"/>
<polygon points="393,953 397.1,959.8 388.9,959.8" fill="none" stroke="#000" stroke-width="1.9"/>
<polygon points="419,1052.4 423.1,1045.6 414.9,1045.6" fill="none" stroke="#000" stroke-width="1.8"/>
<polygon points="426,1052.4 430.1,1045.6 421.9,1045.6" fill="none" stroke="#000" stroke-width="1.8"/>
<polygon points="417,1064.4 421.1,1057.6 412.9,1057.6" fill="none" stroke="#000" stroke-width="1.8"/>
<polygon points="422.6,1064.4 426.7,1057.6 418.5,1057.6" fill="none" stroke="#000" stroke-width="1.8"/>
<polygon points="428,1064.4 432.1,1057.6 423.9,1057.6" fill="none" stroke="#000" stroke-width="1.8"/>
<polygon points="447,928.8 451.4,932.4 447,936 442.6,932.4" fill="none" stroke="#000" stroke-width="1.9"/>
<polygon points="452.2,928.8 456.6,932.4 452.2,936 447.8,932.4" fill="none" stroke="#000" stroke-width="1.9"/>
<polygon points="457.4,928.8 461.8,932.4 457.4,936 453,932.4" fill="none" stroke="#000" stroke-width="1.9"/>
<polygon points="449.6,940.6 454,944.2 449.6,947.8 445.2,944.2" fill="none" stroke="#000" stroke-width="1.9"/>
<polygon points="454.6,940.6 459,944.2 454.6,947.8 450.2,944.2" fill="none" stroke="#000" stroke-width="1.9"/>
<text class="s" font-size="14.8" text-anchor="end" stroke="#000" transform="translate(191.6,1114.5) scale(1.11,1) rotate(-45)">Vector</text>
<text class="s" font-size="14.8" text-anchor="end" stroke="#000" transform="translate(221.4,1114.5) scale(1.11,1) rotate(-45)">KO</text>
<text class="s" font-size="14.8" text-anchor="end" stroke="#000" transform="translate(251,1114.5) scale(1.11,1) rotate(-45)">KO+WT</text>
<text class="s" font-size="14.8" text-anchor="end" stroke="#000" transform="translate(280.6,1114.5) scale(1.11,1) rotate(-45)">KO+331F</text>
<text class="s" font-size="14.8" text-anchor="end" stroke="#000" transform="translate(310,1114.5) scale(1.11,1) rotate(-45)">KO+331E</text>
<text class="s" font-size="14.8" text-anchor="end" stroke="#000" transform="translate(339.6,1114.5) scale(1.11,1) rotate(-45)">Vector</text>
<text class="s" font-size="14.8" text-anchor="end" stroke="#000" transform="translate(369.4,1114.5) scale(1.11,1) rotate(-45)">KO</text>
<text class="s" font-size="14.8" text-anchor="end" stroke="#000" transform="translate(399,1114.5) scale(1.11,1) rotate(-45)">KO+WT</text>
<text class="s" font-size="14.8" text-anchor="end" stroke="#000" transform="translate(428.6,1114.5) scale(1.11,1) rotate(-45)">KO+331F</text>
<text class="s" font-size="14.8" text-anchor="end" stroke="#000" transform="translate(458,1114.5) scale(1.11,1) rotate(-45)">KO+331E</text>
<text class="s b" font-size="19" x="575" y="831.1">i</text>
<polyline points="655.4,1049 699,1040.6 742,1032 785.6,1022.4 828.6,1014.4 872,1005.6" fill="none" stroke="#1fc41f" stroke-width="1.4"/>
<polygon points="655.4,1051.03 657.65,1046.97 653.15,1046.97" fill="#1fc41f"/>
<polygon points="699,1042.62 701.25,1038.57 696.75,1038.57" fill="#1fc41f"/>
<polygon points="742,1034.03 744.25,1029.97 739.75,1029.97" fill="#1fc41f"/>
<polygon points="785.6,1024.42 787.85,1020.38 783.35,1020.38" fill="#1fc41f"/>
<polygon points="828.6,1016.42 830.85,1012.38 826.35,1012.38" fill="#1fc41f"/>
<polygon points="872,1007.62 874.25,1003.58 869.75,1003.58" fill="#1fc41f"/>
<polyline points="655.4,1049 699,1039.4 742,1030 785.6,1019 828.6,1009 872,1001" fill="none" stroke="#f2444c" stroke-width="1.4"/>
<line x1="699" y1="1037.4" x2="699" y2="1041.4" stroke="#f2444c" stroke-width="1.8"/>
<line x1="696.4" y1="1037.4" x2="701.6" y2="1037.4" stroke="#f2444c" stroke-width="1.8"/>
<line x1="696.4" y1="1041.4" x2="701.6" y2="1041.4" stroke="#f2444c" stroke-width="1.8"/>
<line x1="742" y1="1028" x2="742" y2="1032" stroke="#f2444c" stroke-width="1.8"/>
<line x1="739.4" y1="1028" x2="744.6" y2="1028" stroke="#f2444c" stroke-width="1.8"/>
<line x1="739.4" y1="1032" x2="744.6" y2="1032" stroke="#f2444c" stroke-width="1.8"/>
<line x1="785.6" y1="1016" x2="785.6" y2="1022" stroke="#f2444c" stroke-width="1.8"/>
<line x1="783" y1="1016" x2="788.2" y2="1016" stroke="#f2444c" stroke-width="1.8"/>
<line x1="783" y1="1022" x2="788.2" y2="1022" stroke="#f2444c" stroke-width="1.8"/>
<line x1="828.6" y1="1005" x2="828.6" y2="1013" stroke="#f2444c" stroke-width="1.8"/>
<line x1="826" y1="1005" x2="831.2" y2="1005" stroke="#f2444c" stroke-width="1.8"/>
<line x1="826" y1="1013" x2="831.2" y2="1013" stroke="#f2444c" stroke-width="1.8"/>
<line x1="872" y1="997" x2="872" y2="1005" stroke="#f2444c" stroke-width="1.8"/>
<line x1="869.4" y1="997" x2="874.6" y2="997" stroke="#f2444c" stroke-width="1.8"/>
<line x1="869.4" y1="1005" x2="874.6" y2="1005" stroke="#f2444c" stroke-width="1.8"/>
<rect x="652.6" y="1045.08" width="5.6" height="7.84" fill="#f2444c"/>
<rect x="696.2" y="1035.48" width="5.6" height="7.84" fill="#f2444c"/>
<rect x="739.2" y="1026.08" width="5.6" height="7.84" fill="#f2444c"/>
<rect x="782.8" y="1015.08" width="5.6" height="7.84" fill="#f2444c"/>
<rect x="825.8" y="1005.08" width="5.6" height="7.84" fill="#f2444c"/>
<rect x="869.2" y="997.08" width="5.6" height="7.84" fill="#f2444c"/>
<polyline points="655.4,1049 699,1009 742,975.5 785.6,947 828.6,926 872,898" fill="none" stroke="#ee1d8c" stroke-width="1.4"/>
<line x1="699" y1="1002.5" x2="699" y2="1015.5" stroke="#ee1d8c" stroke-width="1.8"/>
<line x1="696.4" y1="1002.5" x2="701.6" y2="1002.5" stroke="#ee1d8c" stroke-width="1.8"/>
<line x1="696.4" y1="1015.5" x2="701.6" y2="1015.5" stroke="#ee1d8c" stroke-width="1.8"/>
<line x1="785.6" y1="940" x2="785.6" y2="954" stroke="#ee1d8c" stroke-width="1.8"/>
<line x1="783" y1="940" x2="788.2" y2="940" stroke="#ee1d8c" stroke-width="1.8"/>
<line x1="783" y1="954" x2="788.2" y2="954" stroke="#ee1d8c" stroke-width="1.8"/>
<line x1="828.6" y1="914" x2="828.6" y2="938" stroke="#ee1d8c" stroke-width="1.8"/>
<line x1="826" y1="914" x2="831.2" y2="914" stroke="#ee1d8c" stroke-width="1.8"/>
<line x1="826" y1="938" x2="831.2" y2="938" stroke="#ee1d8c" stroke-width="1.8"/>
<line x1="872" y1="892" x2="872" y2="904" stroke="#ee1d8c" stroke-width="1.8"/>
<line x1="869.4" y1="892" x2="874.6" y2="892" stroke="#ee1d8c" stroke-width="1.8"/>
<line x1="869.4" y1="904" x2="874.6" y2="904" stroke="#ee1d8c" stroke-width="1.8"/>
<polygon points="655.4,1046.97 657.65,1051.03 653.15,1051.03" fill="#ee1d8c"/>
<polygon points="699,1006.98 701.25,1011.02 696.75,1011.02" fill="#ee1d8c"/>
<polygon points="742,973.48 744.25,977.52 739.75,977.52" fill="#ee1d8c"/>
<polygon points="785.6,944.98 787.85,949.02 783.35,949.02" fill="#ee1d8c"/>
<polygon points="828.6,923.98 830.85,928.02 826.35,928.02" fill="#ee1d8c"/>
<polygon points="872,895.98 874.25,900.02 869.75,900.02" fill="#ee1d8c"/>
<polyline points="655.4,1049 699,998 742,978 785.6,946 828.6,925 872,886" fill="none" stroke="#1414ff" stroke-width="1.4"/>
<line x1="785.6" y1="940" x2="785.6" y2="952" stroke="#1414ff" stroke-width="1.8"/>
<line x1="783" y1="940" x2="788.2" y2="940" stroke="#1414ff" stroke-width="1.8"/>
<line x1="783" y1="952" x2="788.2" y2="952" stroke="#1414ff" stroke-width="1.8"/>
<line x1="828.6" y1="913" x2="828.6" y2="937" stroke="#1414ff" stroke-width="1.8"/>
<line x1="826" y1="913" x2="831.2" y2="913" stroke="#1414ff" stroke-width="1.8"/>
<line x1="826" y1="937" x2="831.2" y2="937" stroke="#1414ff" stroke-width="1.8"/>
<line x1="872" y1="878.5" x2="872" y2="893.5" stroke="#1414ff" stroke-width="1.8"/>
<line x1="869.4" y1="878.5" x2="874.6" y2="878.5" stroke="#1414ff" stroke-width="1.8"/>
<line x1="869.4" y1="893.5" x2="874.6" y2="893.5" stroke="#1414ff" stroke-width="1.8"/>
<polygon points="655.4,1046.75 657.65,1049 655.4,1051.25 653.15,1049" fill="#1414ff"/>
<polygon points="699,995.75 701.25,998 699,1000.25 696.75,998" fill="#1414ff"/>
<polygon points="742,975.75 744.25,978 742,980.25 739.75,978" fill="#1414ff"/>
<polygon points="785.6,943.75 787.85,946 785.6,948.25 783.35,946" fill="#1414ff"/>
<polygon points="828.6,922.75 830.85,925 828.6,927.25 826.35,925" fill="#1414ff"/>
<polygon points="872,883.75 874.25,886 872,888.25 869.75,886" fill="#1414ff"/>
<polyline points="655.4,1046.6 699,1009 742,981 785.6,952 828.6,926 872,898.6" fill="none" stroke="#000000" stroke-width="1.4"/>
<line x1="742" y1="974" x2="742" y2="988" stroke="#000000" stroke-width="1.8"/>
<line x1="739.4" y1="974" x2="744.6" y2="974" stroke="#000000" stroke-width="1.8"/>
<line x1="739.4" y1="988" x2="744.6" y2="988" stroke="#000000" stroke-width="1.8"/>
<line x1="785.6" y1="941.5" x2="785.6" y2="962.5" stroke="#000000" stroke-width="1.8"/>
<line x1="783" y1="941.5" x2="788.2" y2="941.5" stroke="#000000" stroke-width="1.8"/>
<line x1="783" y1="962.5" x2="788.2" y2="962.5" stroke="#000000" stroke-width="1.8"/>
<line x1="828.6" y1="916.5" x2="828.6" y2="935.5" stroke="#000000" stroke-width="1.8"/>
<line x1="826" y1="916.5" x2="831.2" y2="916.5" stroke="#000000" stroke-width="1.8"/>
<line x1="826" y1="935.5" x2="831.2" y2="935.5" stroke="#000000" stroke-width="1.8"/>
<line x1="872" y1="892.1" x2="872" y2="905.1" stroke="#000000" stroke-width="1.8"/>
<line x1="869.4" y1="892.1" x2="874.6" y2="892.1" stroke="#000000" stroke-width="1.8"/>
<line x1="869.4" y1="905.1" x2="874.6" y2="905.1" stroke="#000000" stroke-width="1.8"/>
<circle cx="655.4" cy="1046.6" r="2.7" fill="#000000"/>
<circle cx="699" cy="1009" r="2.7" fill="#000000"/>
<circle cx="742" cy="981" r="2.7" fill="#000000"/>
<circle cx="785.6" cy="952" r="2.7" fill="#000000"/>
<circle cx="828.6" cy="926" r="2.7" fill="#000000"/>
<circle cx="872" cy="898.6" r="2.7" fill="#000000"/>
<line x1="655.4" y1="844.8" x2="655.4" y2="1108.6" stroke="#000" stroke-width="2.4"/>
<line x1="645" y1="1107.4" x2="916.4" y2="1107.4" stroke="#000" stroke-width="2.4"/>
<line x1="645" y1="846" x2="655.4" y2="846" stroke="#000" stroke-width="2.4"/>
<text class="a b" font-size="18.5" text-anchor="end" textLength="43.2" lengthAdjust="spacingAndGlyphs" x="641.4" y="853.6">1500</text>
<line x1="645" y1="933.6" x2="655.4" y2="933.6" stroke="#000" stroke-width="2.4"/>
<text class="a b" font-size="18.5" text-anchor="end" textLength="43.2" lengthAdjust="spacingAndGlyphs" x="641.4" y="941.2">1000</text>
<line x1="645" y1="1020" x2="655.4" y2="1020" stroke="#000" stroke-width="2.4"/>
<text class="a b" font-size="18.5" text-anchor="end" textLength="32.4" lengthAdjust="spacingAndGlyphs" x="641.4" y="1027.6">500</text>
<line x1="645" y1="1107.4" x2="655.4" y2="1107.4" stroke="#000" stroke-width="2.4"/>
<text class="a b" font-size="18.5" text-anchor="end" textLength="10.8" lengthAdjust="spacingAndGlyphs" x="641.4" y="1115">0</text>
<line x1="699" y1="1107.4" x2="699" y2="1117.9" stroke="#000" stroke-width="2.4"/>
<line x1="771" y1="1107.4" x2="771" y2="1117.9" stroke="#000" stroke-width="2.4"/>
<line x1="843.4" y1="1107.4" x2="843.4" y2="1117.9" stroke="#000" stroke-width="2.4"/>
<line x1="915.2" y1="1107.4" x2="915.2" y2="1117.9" stroke="#000" stroke-width="2.4"/>
<text class="a b" font-size="19.5" text-anchor="middle" textLength="22.2" lengthAdjust="spacingAndGlyphs" x="699" y="1140.2">10</text>
<text class="a b" font-size="19.5" text-anchor="middle" textLength="22.2" lengthAdjust="spacingAndGlyphs" x="771" y="1140.2">15</text>
<text class="a b" font-size="19.5" text-anchor="middle" textLength="22.2" lengthAdjust="spacingAndGlyphs" x="843.4" y="1140.2">20</text>
<text class="a b" font-size="19.5" text-anchor="middle" textLength="22.2" lengthAdjust="spacingAndGlyphs" x="916.4" y="1140.2">25</text>
<text class="s" font-size="18.6" text-anchor="middle" stroke="#000" textLength="38" lengthAdjust="spacingAndGlyphs" x="794" y="1180">Days</text>
<text class="s" font-size="22.8" text-anchor="middle" stroke="#000" textLength="180" lengthAdjust="spacingAndGlyphs" transform="translate(586,977.5) rotate(-90)">Tumor Volume (mm<tspan dy="-9" font-size="14.5">3</tspan><tspan dy="9">)</tspan></text>
<text class="s" font-size="18.7" text-anchor="middle" fill="#00b050" stroke="#00b050" textLength="35.2" lengthAdjust="spacingAndGlyphs" x="698" y="960">5-Fu</text>
<polyline points="1019,1051.4 1063,1045 1107,1039 1151.4,1032.6 1195.4,1023 1239.6,1012" fill="none" stroke="#1fc41f" stroke-width="1.4"/>
<line x1="1195.4" y1="1018" x2="1195.4" y2="1028" stroke="#1fc41f" stroke-width="1.8"/>
<line x1="1192.8" y1="1018" x2="1198" y2="1018" stroke="#1fc41f" stroke-width="1.8"/>
<line x1="1192.8" y1="1028" x2="1198" y2="1028" stroke="#1fc41f" stroke-width="1.8"/>
<polygon points="1019,1056.53 1024.7,1046.27 1013.3,1046.27" fill="#1fc41f"/>
<polygon points="1063,1050.13 1068.7,1039.87 1057.3,1039.87" fill="#1fc41f"/>
<polygon points="1107,1044.13 1112.7,1033.87 1101.3,1033.87" fill="#1fc41f"/>
<polygon points="1151.4,1037.73 1157.1,1027.47 1145.7,1027.47" fill="#1fc41f"/>
<polygon points="1195.4,1028.13 1201.1,1017.87 1189.7,1017.87" fill="#1fc41f"/>
<polygon points="1239.6,1017.13 1245.3,1006.87 1233.9,1006.87" fill="#1fc41f"/>
<polyline points="1019,1051.4 1063,1041 1107,1037 1151.4,1029.6 1195.4,1021 1239.6,1008.4" fill="none" stroke="#f2444c" stroke-width="1.4"/>
<line x1="1063" y1="1039" x2="1063" y2="1043" stroke="#f2444c" stroke-width="1.8"/>
<line x1="1060.4" y1="1039" x2="1065.6" y2="1039" stroke="#f2444c" stroke-width="1.8"/>
<line x1="1060.4" y1="1043" x2="1065.6" y2="1043" stroke="#f2444c" stroke-width="1.8"/>
<line x1="1107" y1="1035" x2="1107" y2="1039" stroke="#f2444c" stroke-width="1.8"/>
<line x1="1104.4" y1="1035" x2="1109.6" y2="1035" stroke="#f2444c" stroke-width="1.8"/>
<line x1="1104.4" y1="1039" x2="1109.6" y2="1039" stroke="#f2444c" stroke-width="1.8"/>
<line x1="1151.4" y1="1027.6" x2="1151.4" y2="1031.6" stroke="#f2444c" stroke-width="1.8"/>
<line x1="1148.8" y1="1027.6" x2="1154" y2="1027.6" stroke="#f2444c" stroke-width="1.8"/>
<line x1="1148.8" y1="1031.6" x2="1154" y2="1031.6" stroke="#f2444c" stroke-width="1.8"/>
<line x1="1195.4" y1="1018" x2="1195.4" y2="1024" stroke="#f2444c" stroke-width="1.8"/>
<line x1="1192.8" y1="1018" x2="1198" y2="1018" stroke="#f2444c" stroke-width="1.8"/>
<line x1="1192.8" y1="1024" x2="1198" y2="1024" stroke="#f2444c" stroke-width="1.8"/>
<line x1="1239.6" y1="1001.4" x2="1239.6" y2="1015.4" stroke="#f2444c" stroke-width="1.8"/>
<line x1="1237" y1="1001.4" x2="1242.2" y2="1001.4" stroke="#f2444c" stroke-width="1.8"/>
<line x1="1237" y1="1015.4" x2="1242.2" y2="1015.4" stroke="#f2444c" stroke-width="1.8"/>
<rect x="1016.2" y="1047.48" width="5.6" height="7.84" fill="#f2444c"/>
<rect x="1060.2" y="1037.08" width="5.6" height="7.84" fill="#f2444c"/>
<rect x="1104.2" y="1033.08" width="5.6" height="7.84" fill="#f2444c"/>
<rect x="1148.6" y="1025.68" width="5.6" height="7.84" fill="#f2444c"/>
<rect x="1192.6" y="1017.08" width="5.6" height="7.84" fill="#f2444c"/>
<rect x="1236.8" y="1004.48" width="5.6" height="7.84" fill="#f2444c"/>
<polyline points="1019,1051.4 1063,1016.4 1107,994 1151.4,964 1195.4,936 1239.6,922" fill="none" stroke="#ee1d8c" stroke-width="1.4"/>
<line x1="1107" y1="991" x2="1107" y2="997" stroke="#ee1d8c" stroke-width="1.8"/>
<line x1="1104.4" y1="991" x2="1109.6" y2="991" stroke="#ee1d8c" stroke-width="1.8"/>
<line x1="1104.4" y1="997" x2="1109.6" y2="997" stroke="#ee1d8c" stroke-width="1.8"/>
<line x1="1151.4" y1="959.5" x2="1151.4" y2="968.5" stroke="#ee1d8c" stroke-width="1.8"/>
<line x1="1148.8" y1="959.5" x2="1154" y2="959.5" stroke="#ee1d8c" stroke-width="1.8"/>
<line x1="1148.8" y1="968.5" x2="1154" y2="968.5" stroke="#ee1d8c" stroke-width="1.8"/>
<line x1="1195.4" y1="924.5" x2="1195.4" y2="947.5" stroke="#ee1d8c" stroke-width="1.8"/>
<line x1="1192.8" y1="924.5" x2="1198" y2="924.5" stroke="#ee1d8c" stroke-width="1.8"/>
<line x1="1192.8" y1="947.5" x2="1198" y2="947.5" stroke="#ee1d8c" stroke-width="1.8"/>
<line x1="1239.6" y1="914.5" x2="1239.6" y2="929.5" stroke="#ee1d8c" stroke-width="1.8"/>
<line x1="1237" y1="914.5" x2="1242.2" y2="914.5" stroke="#ee1d8c" stroke-width="1.8"/>
<line x1="1237" y1="929.5" x2="1242.2" y2="929.5" stroke="#ee1d8c" stroke-width="1.8"/>
<polygon points="1019,1049.38 1021.25,1053.43 1016.75,1053.43" fill="#ee1d8c"/>
<polygon points="1063,1014.38 1065.25,1018.42 1060.75,1018.42" fill="#ee1d8c"/>
<polygon points="1107,991.98 1109.25,996.02 1104.75,996.02" fill="#ee1d8c"/>
<polygon points="1151.4,961.98 1153.65,966.02 1149.15,966.02" fill="#ee1d8c"/>
<polygon points="1195.4,933.98 1197.65,938.02 1193.15,938.02" fill="#ee1d8c"/>
<polygon points="1239.6,919.98 1241.85,924.02 1237.35,924.02" fill="#ee1d8c"/>
<polyline points="1019,1051.4 1063,1004 1107,986 1151.4,963 1195.4,941 1239.6,902" fill="none" stroke="#1414ff" stroke-width="1.4"/>
<line x1="1107" y1="982" x2="1107" y2="990" stroke="#1414ff" stroke-width="1.8"/>
<line x1="1104.4" y1="982" x2="1109.6" y2="982" stroke="#1414ff" stroke-width="1.8"/>
<line x1="1104.4" y1="990" x2="1109.6" y2="990" stroke="#1414ff" stroke-width="1.8"/>
<line x1="1239.6" y1="897" x2="1239.6" y2="907" stroke="#1414ff" stroke-width="1.8"/>
<line x1="1237" y1="897" x2="1242.2" y2="897" stroke="#1414ff" stroke-width="1.8"/>
<line x1="1237" y1="907" x2="1242.2" y2="907" stroke="#1414ff" stroke-width="1.8"/>
<polygon points="1019,1049.15 1021.25,1051.4 1019,1053.65 1016.75,1051.4" fill="#1414ff"/>
<polygon points="1063,1001.75 1065.25,1004 1063,1006.25 1060.75,1004" fill="#1414ff"/>
<polygon points="1107,983.75 1109.25,986 1107,988.25 1104.75,986" fill="#1414ff"/>
<polygon points="1151.4,960.75 1153.65,963 1151.4,965.25 1149.15,963" fill="#1414ff"/>
<polygon points="1195.4,938.75 1197.65,941 1195.4,943.25 1193.15,941" fill="#1414ff"/>
<polygon points="1239.6,899.75 1241.85,902 1239.6,904.25 1237.35,902" fill="#1414ff"/>
<polyline points="1019,1051.4 1063,1016 1107,993 1151.4,959.4 1195.4,939 1239.6,907" fill="none" stroke="#000000" stroke-width="1.4"/>
<line x1="1063" y1="1013.5" x2="1063" y2="1018.5" stroke="#000000" stroke-width="1.8"/>
<line x1="1060.4" y1="1013.5" x2="1065.6" y2="1013.5" stroke="#000000" stroke-width="1.8"/>
<line x1="1060.4" y1="1018.5" x2="1065.6" y2="1018.5" stroke="#000000" stroke-width="1.8"/>
<line x1="1107" y1="989.5" x2="1107" y2="996.5" stroke="#000000" stroke-width="1.8"/>
<line x1="1104.4" y1="989.5" x2="1109.6" y2="989.5" stroke="#000000" stroke-width="1.8"/>
<line x1="1104.4" y1="996.5" x2="1109.6" y2="996.5" stroke="#000000" stroke-width="1.8"/>
<line x1="1151.4" y1="955.4" x2="1151.4" y2="963.4" stroke="#000000" stroke-width="1.8"/>
<line x1="1148.8" y1="955.4" x2="1154" y2="955.4" stroke="#000000" stroke-width="1.8"/>
<line x1="1148.8" y1="963.4" x2="1154" y2="963.4" stroke="#000000" stroke-width="1.8"/>
<line x1="1195.4" y1="935" x2="1195.4" y2="943" stroke="#000000" stroke-width="1.8"/>
<line x1="1192.8" y1="935" x2="1198" y2="935" stroke="#000000" stroke-width="1.8"/>
<line x1="1192.8" y1="943" x2="1198" y2="943" stroke="#000000" stroke-width="1.8"/>
<line x1="1239.6" y1="901" x2="1239.6" y2="913" stroke="#000000" stroke-width="1.8"/>
<line x1="1237" y1="901" x2="1242.2" y2="901" stroke="#000000" stroke-width="1.8"/>
<line x1="1237" y1="913" x2="1242.2" y2="913" stroke="#000000" stroke-width="1.8"/>
<circle cx="1019" cy="1051.4" r="2.7" fill="#000000"/>
<circle cx="1063" cy="1016" r="2.7" fill="#000000"/>
<circle cx="1107" cy="993" r="2.7" fill="#000000"/>
<circle cx="1151.4" cy="959.4" r="2.7" fill="#000000"/>
<circle cx="1195.4" cy="939" r="2.7" fill="#000000"/>
<circle cx="1239.6" cy="907" r="2.7" fill="#000000"/>
<line x1="1019" y1="845.2" x2="1019" y2="1113.2" stroke="#000" stroke-width="2.4"/>
<line x1="1008" y1="1112" x2="1285" y2="1112" stroke="#000" stroke-width="2.4"/>
<line x1="1008" y1="846.4" x2="1019" y2="846.4" stroke="#000" stroke-width="2.4"/>
<text class="a b" font-size="18.5" text-anchor="end" textLength="43.2" lengthAdjust="spacingAndGlyphs" x="1004.4" y="854">1500</text>
<line x1="1008" y1="935" x2="1019" y2="935" stroke="#000" stroke-width="2.4"/>
<text class="a b" font-size="18.5" text-anchor="end" textLength="43.2" lengthAdjust="spacingAndGlyphs" x="1004.4" y="942.6">1000</text>
<line x1="1008" y1="1023.6" x2="1019" y2="1023.6" stroke="#000" stroke-width="2.4"/>
<text class="a b" font-size="18.5" text-anchor="end" textLength="32.4" lengthAdjust="spacingAndGlyphs" x="1004.4" y="1031.2">500</text>
<line x1="1008" y1="1112" x2="1019" y2="1112" stroke="#000" stroke-width="2.4"/>
<text class="a b" font-size="18.5" text-anchor="end" textLength="10.8" lengthAdjust="spacingAndGlyphs" x="1004.4" y="1119.6">0</text>
<line x1="1013" y1="890.6" x2="1019" y2="890.6" stroke="#000" stroke-width="2.4"/>
<line x1="1013" y1="979.4" x2="1019" y2="979.4" stroke="#000" stroke-width="2.4"/>
<line x1="1013" y1="1068" x2="1019" y2="1068" stroke="#000" stroke-width="2.4"/>
<line x1="1063" y1="1112" x2="1063" y2="1122.5" stroke="#000" stroke-width="2.4"/>
<line x1="1136.4" y1="1112" x2="1136.4" y2="1122.5" stroke="#000" stroke-width="2.4"/>
<line x1="1210" y1="1112" x2="1210" y2="1122.5" stroke="#000" stroke-width="2.4"/>
<line x1="1283.8" y1="1112" x2="1283.8" y2="1122.5" stroke="#000" stroke-width="2.4"/>
<text class="s b" font-size="21" text-anchor="middle" textLength="22.4" lengthAdjust="spacingAndGlyphs" x="1063" y="1147.6">10</text>
<text class="s b" font-size="21" text-anchor="middle" textLength="22.4" lengthAdjust="spacingAndGlyphs" x="1136.4" y="1147.6">15</text>
<text class="s b" font-size="21" text-anchor="middle" textLength="22.4" lengthAdjust="spacingAndGlyphs" x="1210" y="1147.6">20</text>
<text class="s b" font-size="21" text-anchor="middle" textLength="22.4" lengthAdjust="spacingAndGlyphs" x="1285" y="1147.6">25</text>
<text class="s" font-size="18.6" text-anchor="middle" stroke="#000" textLength="38.4" lengthAdjust="spacingAndGlyphs" x="1149.2" y="1179.4">Days</text>
<text class="s" font-size="22.8" text-anchor="middle" stroke="#000" textLength="184" lengthAdjust="spacingAndGlyphs" transform="translate(947,979.5) rotate(-90)">Tumor Volume (mm<tspan dy="-9" font-size="14.5">3</tspan><tspan dy="9">)</tspan></text>
<text class="s" font-size="18.7" text-anchor="middle" fill="#ff0000" stroke="#ff0000" textLength="41.4" lengthAdjust="spacingAndGlyphs" x="1074.3" y="956">OXA</text>
<line x1="1297.4" y1="848" x2="1325.6" y2="848" stroke="#000000" stroke-width="1.3"/>
<circle cx="1311.4" cy="848" r="2.7" fill="#000000"/>
<text class="s" font-size="21.2" stroke="#000" x="1342" y="855">Vector</text>
<line x1="1297.4" y1="884.2" x2="1325.6" y2="884.2" stroke="#f2444c" stroke-width="1.3"/>
<rect x="1308.6" y="881.4" width="5.6" height="5.6" fill="#f2444c"/>
<text class="s" font-size="21.2" stroke="#000" x="1342" y="891.2">KO</text>
<line x1="1297.4" y1="920" x2="1325.6" y2="920" stroke="#ee1d8c" stroke-width="1.3"/>
<polygon points="1311.4,918.25 1313.9,922.75 1308.9,922.75" fill="#ee1d8c"/>
<text class="s" font-size="21.2" stroke="#000" x="1342" y="927">KO+WT</text>
<line x1="1297.4" y1="956" x2="1325.6" y2="956" stroke="#1fc41f" stroke-width="1.3"/>
<polygon points="1311.4,960.05 1315.9,951.95 1306.9,951.95" fill="#1fc41f"/>
<text class="s" font-size="21.2" stroke="#000" x="1342" y="963">KO+Y331F</text>
<line x1="1297.4" y1="991.6" x2="1325.6" y2="991.6" stroke="#1414ff" stroke-width="1.3"/>
<polygon points="1311.4,989.1 1313.9,991.6 1311.4,994.1 1308.9,991.6" fill="#1414ff"/>
<text class="s" font-size="21.2" stroke="#000" x="1342" y="998.6">KO+Y331E</text>
<text class="s b" font-size="19" x="1465" y="868.5">j</text>
<text class="s" font-size="18.7" text-anchor="middle" fill="#00b050" stroke="#00b050" textLength="34.6" lengthAdjust="spacingAndGlyphs" x="1609.7" y="856.6">5-Fu</text>
<path d="M1550.35 1073.4V991.6H1572.65V1073.4" fill="#fff" stroke="#000" stroke-width="1.9"/>
<path d="M1587.05 1073.4V936.6H1609.35V1073.4" fill="#fff" stroke="#000" stroke-width="1.9"/>
<path d="M1623.65 1073.4V1000.6H1645.95V1073.4" fill="#fff" stroke="#000" stroke-width="1.9"/>
<path d="M1660.05 1073.4V934H1682.35V1073.4" fill="#fff" stroke="#000" stroke-width="1.9"/>
<path d="M1696.65 1073.4V1014.4H1718.95V1073.4" fill="#fff" stroke="#000" stroke-width="1.9"/>
<line x1="1537" y1="878.05" x2="1537" y2="1074.35" stroke="#000" stroke-width="1.9"/>
<line x1="1528.4" y1="1073.4" x2="1733" y2="1073.4" stroke="#000" stroke-width="1.9"/>
<line x1="1528.4" y1="879" x2="1537" y2="879" stroke="#000" stroke-width="1.9"/>
<text class="a b" font-size="14.3" text-anchor="end" textLength="15.8" lengthAdjust="spacingAndGlyphs" x="1525.4" y="884.12">80</text>
<line x1="1528.4" y1="927.6" x2="1537" y2="927.6" stroke="#000" stroke-width="1.9"/>
<text class="a b" font-size="14.3" text-anchor="end" textLength="15.8" lengthAdjust="spacingAndGlyphs" x="1525.4" y="932.72">60</text>
<line x1="1528.4" y1="976" x2="1537" y2="976" stroke="#000" stroke-width="1.9"/>
<text class="a b" font-size="14.3" text-anchor="end" textLength="15.8" lengthAdjust="spacingAndGlyphs" x="1525.4" y="981.12">40</text>
<line x1="1528.4" y1="1024.6" x2="1537" y2="1024.6" stroke="#000" stroke-width="1.9"/>
<text class="a b" font-size="14.3" text-anchor="end" textLength="15.8" lengthAdjust="spacingAndGlyphs" x="1525.4" y="1029.72">20</text>
<line x1="1528.4" y1="1073.4" x2="1537" y2="1073.4" stroke="#000" stroke-width="1.9"/>
<text class="a b" font-size="14.3" text-anchor="end" textLength="7.9" lengthAdjust="spacingAndGlyphs" x="1525.4" y="1078.52">0</text>
<line x1="1561.4" y1="1073.4" x2="1561.4" y2="1081.4" stroke="#000" stroke-width="1.9"/>
<line x1="1598" y1="1073.4" x2="1598" y2="1081.4" stroke="#000" stroke-width="1.9"/>
<line x1="1634.4" y1="1073.4" x2="1634.4" y2="1081.4" stroke="#000" stroke-width="1.9"/>
<line x1="1671" y1="1073.4" x2="1671" y2="1081.4" stroke="#000" stroke-width="1.9"/>
<line x1="1707.6" y1="1073.4" x2="1707.6" y2="1081.4" stroke="#000" stroke-width="1.9"/>
<text class="s" font-size="17.3" text-anchor="middle" stroke="#000" textLength="131" lengthAdjust="spacingAndGlyphs" transform="translate(1482,976) rotate(-90)">Apoptotic Index (%)</text>
<text class="s" font-size="16.2" text-anchor="end" stroke="#000" transform="translate(1567.9,1096) scale(1.04,1) rotate(-45)">Vector</text>
<text class="s" font-size="16.2" text-anchor="end" stroke="#000" transform="translate(1604.5,1096) scale(1.04,1) rotate(-45)">KO</text>
<text class="s" font-size="16.2" text-anchor="end" stroke="#000" transform="translate(1640.9,1096) scale(1.04,1) rotate(-45)">WT</text>
<text class="s" font-size="16.2" text-anchor="end" stroke="#000" transform="translate(1677.5,1096) scale(1.04,1) rotate(-45)">Y331F</text>
<text class="s" font-size="16.2" text-anchor="end" stroke="#000" transform="translate(1714.1,1096) scale(1.04,1) rotate(-45)">Y331E</text>
<path d="M1562.6 915.6V911H1594.6V915.6" fill="none" stroke="#000" stroke-width="1.1"/>
<text class="a" font-size="14.3" text-anchor="middle" letter-spacing="0.9" x="1579.45" y="913.96">***</text>
<path d="M1604 915.6V911H1670V915.6" fill="none" stroke="#000" stroke-width="1.1"/>
<text class="s i" font-size="13.5" text-anchor="middle" textLength="16" lengthAdjust="spacingAndGlyphs" x="1636" y="908">NS</text>
<line x1="1561.5" y1="988" x2="1561.5" y2="995" stroke="#000" stroke-width="1"/>
<line x1="1555.5" y1="988" x2="1567.5" y2="988" stroke="#000" stroke-width="1"/>
<line x1="1555.5" y1="995" x2="1567.5" y2="995" stroke="#000" stroke-width="1"/>
<line x1="1598.2" y1="933" x2="1598.2" y2="939" stroke="#000" stroke-width="1"/>
<line x1="1592.2" y1="933" x2="1604.2" y2="933" stroke="#000" stroke-width="1"/>
<line x1="1592.2" y1="939" x2="1604.2" y2="939" stroke="#000" stroke-width="1"/>
<line x1="1634.8" y1="989.5" x2="1634.8" y2="1009" stroke="#000" stroke-width="1"/>
<line x1="1628.8" y1="989.5" x2="1640.8" y2="989.5" stroke="#000" stroke-width="1"/>
<line x1="1628.8" y1="1009" x2="1640.8" y2="1009" stroke="#000" stroke-width="1"/>
<line x1="1671.2" y1="926.5" x2="1671.2" y2="941" stroke="#000" stroke-width="1"/>
<line x1="1665.2" y1="926.5" x2="1677.2" y2="926.5" stroke="#000" stroke-width="1"/>
<line x1="1665.2" y1="941" x2="1677.2" y2="941" stroke="#000" stroke-width="1"/>
<line x1="1707.8" y1="1009.5" x2="1707.8" y2="1018.5" stroke="#000" stroke-width="1"/>
<line x1="1701.8" y1="1009.5" x2="1713.8" y2="1009.5" stroke="#000" stroke-width="1"/>
<line x1="1701.8" y1="1018.5" x2="1713.8" y2="1018.5" stroke="#000" stroke-width="1"/>
<circle cx="1554" cy="985.6" r="3.4" fill="#000"/>
<circle cx="1558" cy="988" r="3.4" fill="#000"/>
<circle cx="1562" cy="990.4" r="3.4" fill="#000"/>
<circle cx="1566" cy="993" r="3.4" fill="#000"/>
<circle cx="1569" cy="995.6" r="3.4" fill="#000"/>
<rect x="1587.1" y="928.7" width="6.6" height="6.6" fill="#000"/>
<rect x="1590.7" y="930.7" width="6.6" height="6.6" fill="#000"/>
<rect x="1594.7" y="931.7" width="6.6" height="6.6" fill="#000"/>
<rect x="1598.7" y="933.1" width="6.6" height="6.6" fill="#000"/>
<rect x="1602.3" y="934.3" width="6.6" height="6.6" fill="#000"/>
<polygon points="1634.4,980.5 1638.2,987.5 1630.6,987.5" fill="#000"/>
<polygon points="1627,994.5 1630.8,1001.5 1623.2,1001.5" fill="#000"/>
<polygon points="1632,1003.5 1635.8,1010.5 1628.2,1010.5" fill="#000"/>
<polygon points="1636.4,1003.5 1640.2,1010.5 1632.6,1010.5" fill="#000"/>
<polygon points="1641,1005.1 1644.8,1012.1 1637.2,1012.1" fill="#000"/>
<polygon points="1667,925.9 1670.8,918.9 1663.2,918.9" fill="#000"/>
<polygon points="1674,933.1 1677.8,926.1 1670.2,926.1" fill="#000"/>
<polygon points="1664,941.9 1667.8,934.9 1660.2,934.9" fill="#000"/>
<polygon points="1671.4,941.9 1675.2,934.9 1667.6,934.9" fill="#000"/>
<polygon points="1678,945.5 1681.8,938.5 1674.2,938.5" fill="#000"/>
<polygon points="1700,1004 1704,1008 1700,1012 1696,1008" fill="#000"/>
<polygon points="1705,1008 1709,1012 1705,1016 1701,1012" fill="#000"/>
<polygon points="1709,1011 1713,1015 1709,1019 1705,1015" fill="#000"/>
<polygon points="1713,1013.6 1717,1017.6 1713,1021.6 1709,1017.6" fill="#000"/>
<polygon points="1716,1013 1720,1017 1716,1021 1712,1017" fill="#000"/>
<text class="s" font-size="18.7" text-anchor="middle" fill="#ff0000" stroke="#ff0000" textLength="41.2" lengthAdjust="spacingAndGlyphs" x="1867.6" y="855.7">OXA</text>
<path d="M1817.3 1068V970.1H1839.9V1068" fill="#fff" stroke="#000" stroke-width="1.9"/>
<path d="M1853.7 1068V906.2H1876.3V1068" fill="#fff" stroke="#000" stroke-width="1.9"/>
<path d="M1890.4 1068V964.5H1913V1068" fill="#fff" stroke="#000" stroke-width="1.9"/>
<path d="M1926.9 1068V906.2H1949.5V1068" fill="#fff" stroke="#000" stroke-width="1.9"/>
<path d="M1963.5 1068V992.9H1986.1V1068" fill="#fff" stroke="#000" stroke-width="1.9"/>
<line x1="1804.5" y1="873.05" x2="1804.5" y2="1068.95" stroke="#000" stroke-width="1.9"/>
<line x1="1796.9" y1="1068" x2="2000" y2="1068" stroke="#000" stroke-width="1.9"/>
<line x1="1796.9" y1="874" x2="1804.5" y2="874" stroke="#000" stroke-width="1.9"/>
<text class="a b" font-size="14.3" text-anchor="end" textLength="15.8" lengthAdjust="spacingAndGlyphs" x="1793.9" y="879.12">60</text>
<line x1="1796.9" y1="938.8" x2="1804.5" y2="938.8" stroke="#000" stroke-width="1.9"/>
<text class="a b" font-size="14.3" text-anchor="end" textLength="15.8" lengthAdjust="spacingAndGlyphs" x="1793.9" y="943.92">40</text>
<line x1="1796.9" y1="1003.5" x2="1804.5" y2="1003.5" stroke="#000" stroke-width="1.9"/>
<text class="a b" font-size="14.3" text-anchor="end" textLength="15.8" lengthAdjust="spacingAndGlyphs" x="1793.9" y="1008.62">20</text>
<line x1="1796.9" y1="1068" x2="1804.5" y2="1068" stroke="#000" stroke-width="1.9"/>
<text class="a b" font-size="14.3" text-anchor="end" textLength="7.9" lengthAdjust="spacingAndGlyphs" x="1793.9" y="1073.12">0</text>
<line x1="1828.3" y1="1068" x2="1828.3" y2="1076" stroke="#000" stroke-width="1.9"/>
<line x1="1864.9" y1="1068" x2="1864.9" y2="1076" stroke="#000" stroke-width="1.9"/>
<line x1="1901.4" y1="1068" x2="1901.4" y2="1076" stroke="#000" stroke-width="1.9"/>
<line x1="1938" y1="1068" x2="1938" y2="1076" stroke="#000" stroke-width="1.9"/>
<line x1="1974.5" y1="1068" x2="1974.5" y2="1076" stroke="#000" stroke-width="1.9"/>
<text class="s" font-size="17.3" text-anchor="middle" stroke="#000" textLength="131" lengthAdjust="spacingAndGlyphs" transform="translate(1749,971) rotate(-90)">Apoptotic Index (%)</text>
<text class="s" font-size="16.2" text-anchor="end" stroke="#000" transform="translate(1834.8,1091.5) scale(1.04,1) rotate(-45)">Vector</text>
<text class="s" font-size="16.2" text-anchor="end" stroke="#000" transform="translate(1871.4,1091.5) scale(1.04,1) rotate(-45)">KO</text>
<text class="s" font-size="16.2" text-anchor="end" stroke="#000" transform="translate(1907.9,1091.5) scale(1.04,1) rotate(-45)">WT</text>
<text class="s" font-size="16.2" text-anchor="end" stroke="#000" transform="translate(1944.5,1091.5) scale(1.04,1) rotate(-45)">Y331F</text>
<text class="s" font-size="16.2" text-anchor="end" stroke="#000" transform="translate(1981,1091.5) scale(1.04,1) rotate(-45)">Y331E</text>
<path d="M1828.3 886.8V882.9H1857.7V886.8" fill="none" stroke="#000" stroke-width="1.1"/>
<text class="a" font-size="14.3" text-anchor="middle" letter-spacing="0.9" x="1843.55" y="885.86">***</text>
<path d="M1861.8 886.8V882.9H1937.5V886.8" fill="none" stroke="#000" stroke-width="1.1"/>
<text class="s i" font-size="13.5" text-anchor="middle" textLength="16" lengthAdjust="spacingAndGlyphs" x="1899.4" y="880.4">NS</text>
<line x1="1828.7" y1="953.5" x2="1828.7" y2="985.2" stroke="#000" stroke-width="1"/>
<line x1="1822.7" y1="953.5" x2="1834.7" y2="953.5" stroke="#000" stroke-width="1"/>
<line x1="1822.7" y1="985.2" x2="1834.7" y2="985.2" stroke="#000" stroke-width="1"/>
<line x1="1865" y1="899" x2="1865" y2="913" stroke="#000" stroke-width="1"/>
<line x1="1859" y1="899" x2="1871" y2="899" stroke="#000" stroke-width="1"/>
<line x1="1859" y1="913" x2="1871" y2="913" stroke="#000" stroke-width="1"/>
<line x1="1901.7" y1="956.5" x2="1901.7" y2="970.5" stroke="#000" stroke-width="1"/>
<line x1="1895.7" y1="956.5" x2="1907.7" y2="956.5" stroke="#000" stroke-width="1"/>
<line x1="1895.7" y1="970.5" x2="1907.7" y2="970.5" stroke="#000" stroke-width="1"/>
<line x1="1938.2" y1="899.5" x2="1938.2" y2="911.5" stroke="#000" stroke-width="1"/>
<line x1="1932.2" y1="899.5" x2="1944.2" y2="899.5" stroke="#000" stroke-width="1"/>
<line x1="1932.2" y1="911.5" x2="1944.2" y2="911.5" stroke="#000" stroke-width="1"/>
<line x1="1974.8" y1="987" x2="1974.8" y2="998.5" stroke="#000" stroke-width="1"/>
<line x1="1968.8" y1="987" x2="1980.8" y2="987" stroke="#000" stroke-width="1"/>
<line x1="1968.8" y1="998.5" x2="1980.8" y2="998.5" stroke="#000" stroke-width="1"/>
<circle cx="1828.7" cy="948.7" r="3.8" fill="#000"/>
<circle cx="1828.7" cy="961.4" r="3.8" fill="#000"/>
<circle cx="1822" cy="968.2" r="3.8" fill="#000"/>
<circle cx="1835.1" cy="978.1" r="3.8" fill="#000"/>
<circle cx="1828.7" cy="990.9" r="3.8" fill="#000"/>
<rect x="1857.7" y="892.7" width="7.6" height="7.6" fill="#000"/>
<rect x="1865" y="895.8" width="7.6" height="7.6" fill="#000"/>
<rect x="1853.4" y="902.9" width="7.6" height="7.6" fill="#000"/>
<rect x="1861.1" y="906.3" width="7.6" height="7.6" fill="#000"/>
<rect x="1868.7" y="909.7" width="7.6" height="7.6" fill="#000"/>
<polygon points="1894.3,951.45 1898.3,958.95 1890.3,958.95" fill="#000"/>
<polygon points="1901.4,957.35 1905.4,964.85 1897.4,964.85" fill="#000"/>
<polygon points="1909.1,957.35 1913.1,964.85 1905.1,964.85" fill="#000"/>
<polygon points="1898,961.65 1902,969.15 1894,969.15" fill="#000"/>
<polygon points="1904.8,971.25 1908.8,978.75 1900.8,978.75" fill="#000"/>
<polygon points="1938.3,899.45 1942.3,891.95 1934.3,891.95" fill="#000"/>
<polygon points="1931.2,906.25 1935.2,898.75 1927.2,898.75" fill="#000"/>
<polygon points="1938.8,908.75 1942.8,901.25 1934.8,901.25" fill="#000"/>
<polygon points="1942.2,912.15 1946.2,904.65 1938.2,904.65" fill="#000"/>
<polygon points="1945.6,917.25 1949.6,909.75 1941.6,909.75" fill="#000"/>
<polygon points="1971.1,979.8 1975.4,984.1 1971.1,988.4 1966.8,984.1" fill="#000"/>
<polygon points="1977.9,983.2 1982.2,987.5 1977.9,991.8 1973.6,987.5" fill="#000"/>
<polygon points="1966.9,989.5 1971.2,993.8 1966.9,998.1 1962.6,993.8" fill="#000"/>
<polygon points="1974.5,990 1978.8,994.3 1974.5,998.6 1970.2,994.3" fill="#000"/>
<polygon points="1981.8,995.9 1986.1,1000.2 1981.8,1004.5 1977.5,1000.2" fill="#000"/>
</svg>
</body></html>
